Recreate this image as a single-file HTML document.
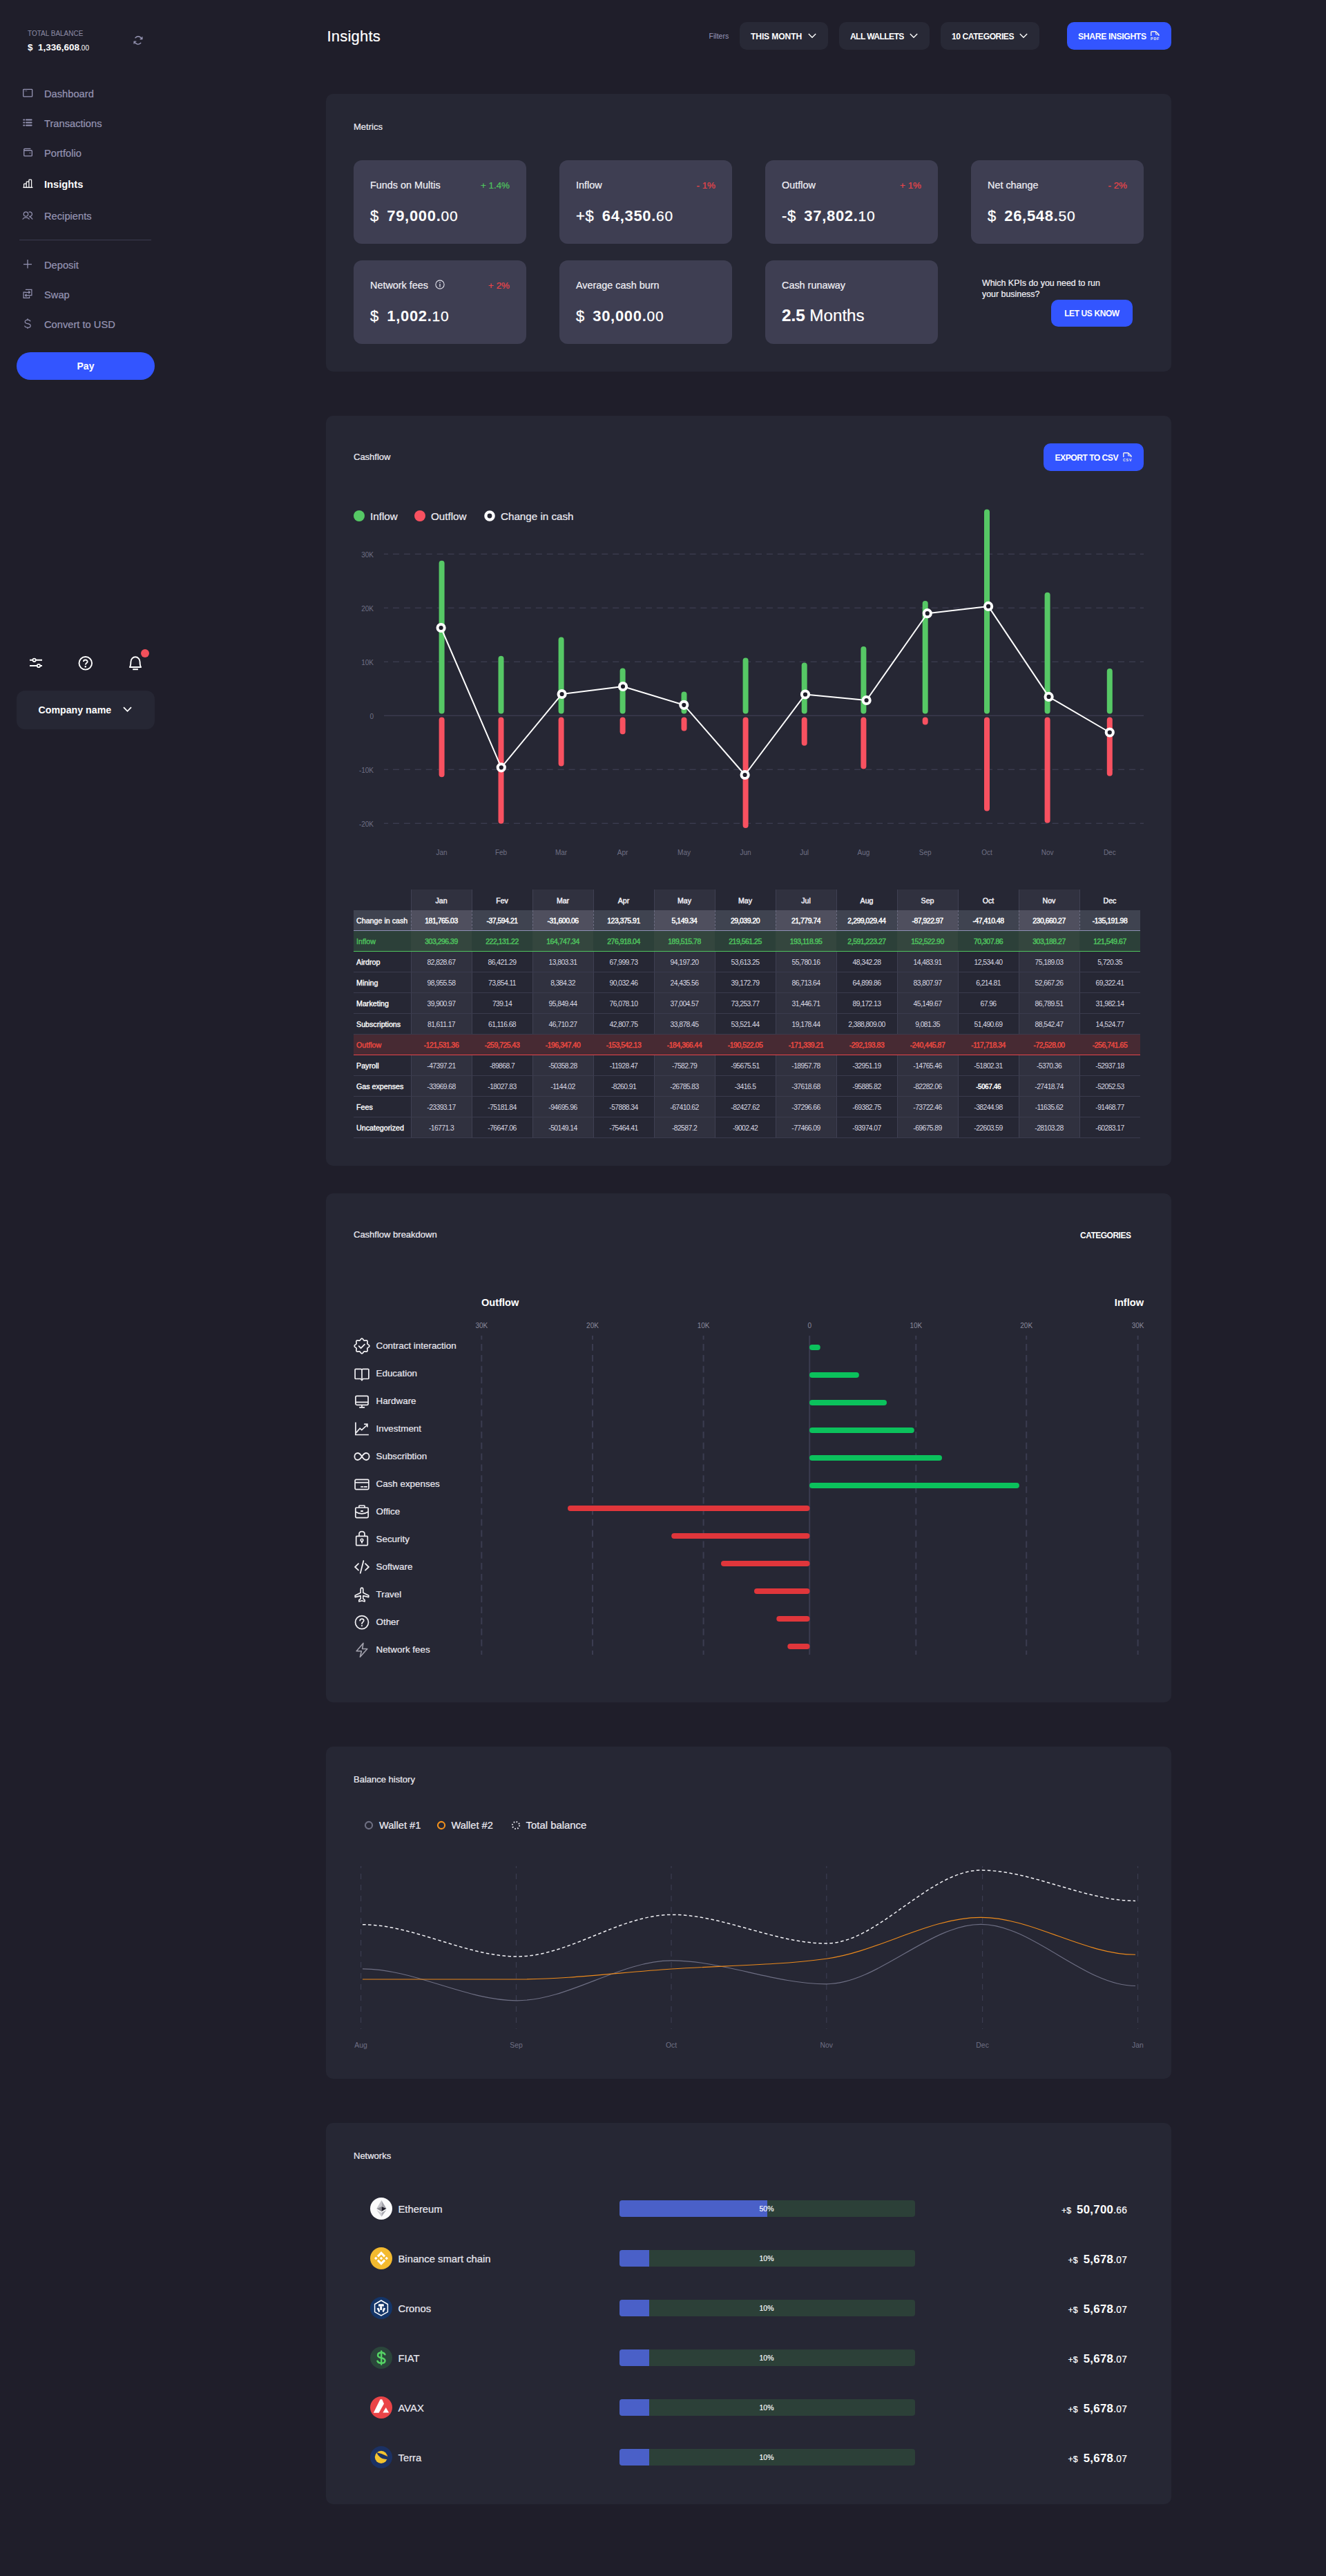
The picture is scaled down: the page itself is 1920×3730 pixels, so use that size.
<!DOCTYPE html><html><head><meta charset="utf-8"><style>
*{margin:0;padding:0;box-sizing:border-box}
html,body{width:1920px;height:3730px;background:#1f1e2a;overflow:hidden}
body{position:relative;font-family:"Liberation Sans",sans-serif;color:#ecebf2}
.t{position:absolute;white-space:nowrap}
.b{position:absolute}
.s{position:absolute;overflow:visible}
</style></head><body>
<div class="t" style="left:40px;top:43.20px;font-size:10px;line-height:12.0px;color:#8d8ca6;font-weight:400;">TOTAL BALANCE</div>
<div class="t" style="left:40px;top:60.90px;font-size:13.5px;line-height:16.2px;color:#ffffff;font-weight:700;">$&nbsp;&nbsp;1,336,608<span style="font-size:10px;font-weight:400">.00</span></div>
<svg class="s" style="left:188px;top:46px;" width="24" height="24" viewBox="0 0 24 24"><path d="M8 8.7 Q12.2 4.4 17.1 9.5 M15.8 16.2 Q11.6 20.4 6.8 15.3" fill="none" stroke="#9a99b8" stroke-width="1.3" stroke-linecap="round"/><path d="M17.9 7.2 V10.5 H14.7 M6.1 17.4 V14.2 H9.3" fill="none" stroke="#9a99b8" stroke-width="1.3" stroke-linejoin="round"/></svg>
<div class="t" style="left:64px;top:128.18px;font-size:14.7px;line-height:17.64px;color:#9594b3;font-weight:400;;-webkit-text-stroke:0.22px #9594b3">Dashboard</div>
<div class="t" style="left:64px;top:171.18px;font-size:14.7px;line-height:17.64px;color:#9594b3;font-weight:400;;-webkit-text-stroke:0.22px #9594b3">Transactions</div>
<div class="t" style="left:64px;top:214.18px;font-size:14.7px;line-height:17.64px;color:#9594b3;font-weight:400;;-webkit-text-stroke:0.22px #9594b3">Portfolio</div>
<div class="t" style="left:64px;top:259.18px;font-size:14.7px;line-height:17.64px;color:#ffffff;font-weight:700;">Insights</div>
<div class="t" style="left:64px;top:305.18px;font-size:14.7px;line-height:17.64px;color:#9594b3;font-weight:400;;-webkit-text-stroke:0.22px #9594b3">Recipients</div>
<div class="t" style="left:64px;top:376.18px;font-size:14.7px;line-height:17.64px;color:#9594b3;font-weight:400;;-webkit-text-stroke:0.22px #9594b3">Deposit</div>
<div class="t" style="left:64px;top:419.18px;font-size:14.7px;line-height:17.64px;color:#9594b3;font-weight:400;;-webkit-text-stroke:0.22px #9594b3">Swap</div>
<div class="t" style="left:64px;top:462.18px;font-size:14.7px;line-height:17.64px;color:#9594b3;font-weight:400;;-webkit-text-stroke:0.22px #9594b3">Convert to USD</div>
<svg class="s" style="left:33px;top:128px;" width="15" height="13" viewBox="0 0 15 13"><rect x="0.75" y="1.3" width="12.9" height="10.5" rx="0.6" fill="none" stroke="#9594b3" stroke-width="1.3"/><circle cx="3.4" cy="3.6" r="0.6" fill="#9594b3"/><circle cx="5.6" cy="3.6" r="0.6" fill="#9594b3"/></svg>
<svg class="s" style="left:33px;top:172px;" width="15" height="12" viewBox="0 0 15 12"><rect x="0.3" y="0.6" width="2.9" height="1.8" rx="0.9" fill="#9594b3"/><rect x="4" y="0.6" width="9.6" height="1.8" rx="0.9" fill="#9594b3"/><rect x="0.3" y="4.6" width="2.9" height="1.8" rx="0.9" fill="#9594b3"/><rect x="4" y="4.6" width="9.6" height="1.8" rx="0.9" fill="#9594b3"/><rect x="0.3" y="8.6" width="2.9" height="1.8" rx="0.9" fill="#9594b3"/><rect x="4" y="8.6" width="9.6" height="1.8" rx="0.9" fill="#9594b3"/></svg>
<svg class="s" style="left:33px;top:213px;" width="15" height="15" viewBox="0 0 15 15"><path d="M11.4 2.4 H2.9 Q1.75 2.4 1.75 3.6 V11.9 Q1.75 12.9 2.8 12.9 H12.3 Q13.35 12.9 13.35 11.9 V5.8 Q13.35 4.75 12.3 4.75 H1.75" fill="none" stroke="#9594b3" stroke-width="1.3"/><circle cx="10.4" cy="8.5" r="0.75" fill="#9594b3"/></svg>
<svg class="s" style="left:33px;top:258px;" width="15" height="15" viewBox="0 0 15 15"><path d="M0.4 13.4 H14.4" stroke="#fff" stroke-width="1.4"/><path d="M1.6 13.4 V8.9 Q1.6 8.1 2.4 8.1 H4.4 Q5.2 8.1 5.2 8.9 V13.4 M5.2 13.4 V5.9 Q5.2 5.1 6 5.1 H8.1 Q8.9 5.1 8.9 5.9 V13.4 M8.9 13.4 V2.9 Q8.9 2.1 9.7 2.1 H11.8 Q12.6 2.1 12.6 2.9 V13.4" fill="none" stroke="#fff" stroke-width="1.25"/></svg>
<svg class="s" style="left:32px;top:304px;" width="18" height="15" viewBox="0 0 18 15"><circle cx="5.5" cy="6" r="3.2" fill="none" stroke="#9594b3" stroke-width="1.25"/><path d="M9.6 3.3 A3.2 3.2 0 1 1 10.3 9.1" fill="none" stroke="#9594b3" stroke-width="1.25"/><path d="M1 13.2 C2.8 10 8.2 10 10.2 13.2 M11 10.2 C12.6 10.4 13.8 11.6 14.8 13.2" fill="none" stroke="#9594b3" stroke-width="1.25" stroke-linecap="round"/></svg>
<div class="b" style="left:28px;top:347px;width:191px;height:1.2px;background:#3b3b50;border-radius:0px;"></div>
<svg class="s" style="left:33px;top:375px;" width="14" height="15" viewBox="0 0 14 15"><path d="M7 1 V13.6 M1 7.5 H13" stroke="#9594b3" stroke-width="1.25"/></svg>
<svg class="s" style="left:33px;top:418px;" width="14" height="15" viewBox="0 0 14 15"><path d="M4.4 1.4 H12.9 V9.7 H10.4" fill="none" stroke="#9594b3" stroke-width="1.2" stroke-linecap="round"/><path d="M3.6 5.1 H1.1 V13.4 H9.6 V11.6" fill="none" stroke="#9594b3" stroke-width="1.2" stroke-linecap="round"/><path d="M3.6 5.3 H10.4 M8.7 3.7 L10.4 5.3 L8.7 6.9 M10.2 9.6 H3.4 M5.1 8 L3.4 9.6 L5.1 11.2" fill="none" stroke="#9594b3" stroke-width="1.2" stroke-linecap="round" stroke-linejoin="round"/></svg>
<svg class="s" style="left:34px;top:460px;" width="12" height="17" viewBox="0 0 12 17"><path d="M6 1.2 V3 M6 14.3 V16.1" stroke="#9594b3" stroke-width="1.2"/><path d="M10 5.3 C9.6 3.9 8 3.1 6 3.1 C3.8 3.1 2.2 4.2 2.2 5.9 C2.2 7.7 4 8.3 6 8.7 C8.2 9.1 10.2 9.7 10.2 11.7 C10.2 13.3 8.4 14.3 6 14.3 C3.6 14.3 2 13.3 1.6 11.7" fill="none" stroke="#9594b3" stroke-width="1.2"/></svg>
<div class="b" style="left:24px;top:510px;width:200px;height:40px;background:#3355ff;border-radius:20px;"></div>
<div class="t" style="left:-76px;width:400px;text-align:center;top:521.60px;font-size:14px;line-height:16.8px;color:#ffffff;font-weight:700;">Pay</div>
<svg class="s" style="left:42px;top:952px;" width="20" height="16" viewBox="0 0 20 16"><path d="M1 3.8 H19 M1 12 H19" stroke="#fff" stroke-width="1.9"/><circle cx="7.6" cy="3.8" r="2.2" fill="#1f1e2a" stroke="#fff" stroke-width="1.8"/><circle cx="14" cy="12" r="2.2" fill="#1f1e2a" stroke="#fff" stroke-width="1.8"/></svg>
<svg class="s" style="left:113px;top:950px;" width="21" height="21" viewBox="0 0 21 21"><circle cx="10.8" cy="10.3" r="9.3" fill="none" stroke="#fff" stroke-width="1.9"/><path d="M7.9 8 C7.9 4.7 13.7 4.7 13.7 8 C13.7 10 10.8 10.3 10.8 12.5" fill="none" stroke="#fff" stroke-width="1.9"/><circle cx="10.8" cy="15.3" r="1.2" fill="#fff"/></svg>
<svg class="s" style="left:186px;top:950px;" width="20" height="21" viewBox="0 0 20 21"><path d="M1.9 16 C3.4 14 3.4 12 3.4 8.5 C3.4 4.4 6.4 1.2 10 1.2 C13.6 1.2 16.6 4.4 16.6 8.5 C16.6 12 16.6 14 18.1 16 Z" fill="none" stroke="#fff" stroke-width="1.9" stroke-linejoin="round"/><path d="M6.2 19.2 H13.9" stroke="#fff" stroke-width="2"/></svg>
<div class="b" style="left:204px;top:940px;width:12px;height:12px;background:#f2505b;border-radius:6px;"></div>
<div class="b" style="left:24px;top:1000px;width:200px;height:56px;background:#262734;border-radius:12px;"></div>
<div class="t" style="left:55.5px;top:1019.98px;font-size:14.2px;line-height:17.04px;color:#ffffff;font-weight:700;">Company name</div>
<svg class="s" style="left:178px;top:1023px;" width="13" height="9" viewBox="0 0 13 9"><path d="M1 1.2 L6.5 6.8 L12 1.2" fill="none" stroke="#fff" stroke-width="1.8"/></svg>
<div class="t" style="left:473.5px;top:39.70px;font-size:22px;line-height:26.4px;color:#ffffff;font-weight:400;letter-spacing:0.2px;-webkit-text-stroke:0.22px #ffffff">Insights</div>
<div class="t" style="left:1026.5px;top:46.14px;font-size:10.6px;line-height:12.72px;color:#9898bc;font-weight:400;">Filters</div>
<div class="b" style="left:1071px;top:32px;width:128px;height:40px;background:#282936;border-radius:10px;"></div>
<div class="t" style="left:1087px;top:45.54px;font-size:12.1px;line-height:14.52px;color:#ffffff;font-weight:700;letter-spacing:-0.12px">THIS MONTH</div>
<svg class="s" style="left:1170px;top:48px;" width="12" height="8" viewBox="0 0 12 8"><path d="M0.8 1 L6 6.2 L11.2 1" fill="none" stroke="#fff" stroke-width="1.4"/></svg>
<div class="b" style="left:1215px;top:32px;width:131px;height:40px;background:#282936;border-radius:10px;"></div>
<div class="t" style="left:1231px;top:45.54px;font-size:12.1px;line-height:14.52px;color:#ffffff;font-weight:700;letter-spacing:-0.62px">ALL WALLETS</div>
<svg class="s" style="left:1317px;top:48px;" width="12" height="8" viewBox="0 0 12 8"><path d="M0.8 1 L6 6.2 L11.2 1" fill="none" stroke="#fff" stroke-width="1.4"/></svg>
<div class="b" style="left:1362px;top:32px;width:143px;height:40px;background:#282936;border-radius:10px;"></div>
<div class="t" style="left:1378px;top:45.54px;font-size:12.1px;line-height:14.52px;color:#ffffff;font-weight:700;letter-spacing:-0.45px">10 CATEGORIES</div>
<svg class="s" style="left:1476px;top:48px;" width="12" height="8" viewBox="0 0 12 8"><path d="M0.8 1 L6 6.2 L11.2 1" fill="none" stroke="#fff" stroke-width="1.4"/></svg>
<div class="b" style="left:1545px;top:32px;width:151px;height:40px;background:#3355ff;border-radius:10px;"></div>
<div class="t" style="left:1561px;top:45.88px;font-size:12.2px;line-height:14.64px;color:#ffffff;font-weight:700;letter-spacing:-0.35px">SHARE INSIGHTS</div>
<svg class="s" style="left:1666px;top:45px;" width="13" height="14" viewBox="0 0 13 14"><path d="M0.8 7 V1.7 Q0.8 0.8 1.7 0.8 H7.5 L11.9 5.1 V7" fill="none" stroke="#f2f0ea" stroke-width="1.4" stroke-linejoin="round"/><path d="M7.6 1 V4.9 H11.6" fill="none" stroke="#f2f0ea" stroke-width="1"/><text x="6.6" y="13.2" font-size="5.2" font-weight="700" fill="#f2f0ea" text-anchor="middle" letter-spacing="0.9" font-family="Liberation Sans">PDF</text></svg>
<div class="b" style="left:472px;top:136px;width:1224px;height:402px;background:#262734;border-radius:10px;"></div>
<div class="t" style="left:512px;top:176.20px;font-size:13px;line-height:15.6px;color:#ecebf2;font-weight:400;;-webkit-text-stroke:0.22px #ecebf2">Metrics</div>
<div class="b" style="left:512px;top:232px;width:250px;height:121px;background:#3e3e52;border-radius:12px;"></div>
<div class="t" style="left:536px;top:260.36px;font-size:14.4px;line-height:17.28px;color:#f0eff5;font-weight:400;;-webkit-text-stroke:0.22px #f0eff5">Funds on Multis</div>
<div class="t" style="right:1182px;top:260.96px;font-size:13.4px;line-height:16.08px;color:#4fc45e;font-weight:400;text-align:right;;-webkit-text-stroke:0.22px #4fc45e">+ 1.4%</div>
<div class="t" style="left:536px;top:300.30px;font-size:22px;line-height:26.4px;color:#ffffff;font-weight:700;letter-spacing:0.7px"><span style="font-weight:400;-webkit-text-stroke:0.3px #fff">$</span><span style="display:inline-block;width:11.3px"></span>79,000.<span style="font-weight:400;font-size:21px;-webkit-text-stroke:0.25px #fff">00</span></div>
<div class="b" style="left:810px;top:232px;width:250px;height:121px;background:#3e3e52;border-radius:12px;"></div>
<div class="t" style="left:834px;top:260.36px;font-size:14.4px;line-height:17.28px;color:#f0eff5;font-weight:400;;-webkit-text-stroke:0.22px #f0eff5">Inflow</div>
<div class="t" style="right:884px;top:260.96px;font-size:13.4px;line-height:16.08px;color:#e8454a;font-weight:400;text-align:right;;-webkit-text-stroke:0.22px #e8454a">- 1%</div>
<div class="t" style="left:834px;top:300.30px;font-size:22px;line-height:26.4px;color:#ffffff;font-weight:700;letter-spacing:0.7px"><span style="font-weight:400;-webkit-text-stroke:0.3px #fff">+$</span><span style="display:inline-block;width:11.3px"></span>64,350.<span style="font-weight:400;font-size:21px;-webkit-text-stroke:0.25px #fff">60</span></div>
<div class="b" style="left:1108px;top:232px;width:250px;height:121px;background:#3e3e52;border-radius:12px;"></div>
<div class="t" style="left:1132px;top:260.36px;font-size:14.4px;line-height:17.28px;color:#f0eff5;font-weight:400;;-webkit-text-stroke:0.22px #f0eff5">Outflow</div>
<div class="t" style="right:586px;top:260.96px;font-size:13.4px;line-height:16.08px;color:#e8454a;font-weight:400;text-align:right;;-webkit-text-stroke:0.22px #e8454a">+ 1%</div>
<div class="t" style="left:1132px;top:300.30px;font-size:22px;line-height:26.4px;color:#ffffff;font-weight:700;letter-spacing:0.7px"><span style="font-weight:400;-webkit-text-stroke:0.3px #fff">-$</span><span style="display:inline-block;width:11.3px"></span>37,802.<span style="font-weight:400;font-size:21px;-webkit-text-stroke:0.25px #fff">10</span></div>
<div class="b" style="left:1406px;top:232px;width:250px;height:121px;background:#3e3e52;border-radius:12px;"></div>
<div class="t" style="left:1430px;top:260.36px;font-size:14.4px;line-height:17.28px;color:#f0eff5;font-weight:400;;-webkit-text-stroke:0.22px #f0eff5">Net change</div>
<div class="t" style="right:288px;top:260.96px;font-size:13.4px;line-height:16.08px;color:#e8454a;font-weight:400;text-align:right;;-webkit-text-stroke:0.22px #e8454a">- 2%</div>
<div class="t" style="left:1430px;top:300.30px;font-size:22px;line-height:26.4px;color:#ffffff;font-weight:700;letter-spacing:0.7px"><span style="font-weight:400;-webkit-text-stroke:0.3px #fff">$</span><span style="display:inline-block;width:11.3px"></span>26,548.<span style="font-weight:400;font-size:21px;-webkit-text-stroke:0.25px #fff">50</span></div>
<div class="b" style="left:512px;top:377px;width:250px;height:120.5px;background:#3e3e52;border-radius:12px;"></div>
<div class="t" style="left:536px;top:405.36px;font-size:14.4px;line-height:17.28px;color:#f0eff5;font-weight:400;;-webkit-text-stroke:0.22px #f0eff5">Network fees</div>
<div class="t" style="right:1182px;top:405.96px;font-size:13.4px;line-height:16.08px;color:#e8454a;font-weight:400;text-align:right;;-webkit-text-stroke:0.22px #e8454a">+ 2%</div>
<div class="t" style="left:536px;top:445.30px;font-size:22px;line-height:26.4px;color:#ffffff;font-weight:700;letter-spacing:0.7px"><span style="font-weight:400;-webkit-text-stroke:0.3px #fff">$</span><span style="display:inline-block;width:11.3px"></span>1,002.<span style="font-weight:400;font-size:21px;-webkit-text-stroke:0.25px #fff">10</span></div>
<div class="b" style="left:810px;top:377px;width:250px;height:120.5px;background:#3e3e52;border-radius:12px;"></div>
<div class="t" style="left:834px;top:405.36px;font-size:14.4px;line-height:17.28px;color:#f0eff5;font-weight:400;;-webkit-text-stroke:0.22px #f0eff5">Average cash burn</div>
<div class="t" style="left:834px;top:445.30px;font-size:22px;line-height:26.4px;color:#ffffff;font-weight:700;letter-spacing:0.7px"><span style="font-weight:400;-webkit-text-stroke:0.3px #fff">$</span><span style="display:inline-block;width:11.3px"></span>30,000.<span style="font-weight:400;font-size:21px;-webkit-text-stroke:0.25px #fff">00</span></div>
<div class="b" style="left:1108px;top:377px;width:250px;height:120.5px;background:#3e3e52;border-radius:12px;"></div>
<div class="t" style="left:1132px;top:405.36px;font-size:14.4px;line-height:17.28px;color:#f0eff5;font-weight:400;;-webkit-text-stroke:0.22px #f0eff5">Cash runaway</div>
<div class="t" style="left:1132px;top:441.98px;font-size:24.2px;line-height:29.04px;color:#ffffff;font-weight:400;;-webkit-text-stroke:0.22px #ffffff"><b>2.5</b> Months</div>
<svg class="s" style="left:630px;top:405px;" width="14" height="14" viewBox="0 0 14 14"><circle cx="7" cy="7" r="6.1" fill="none" stroke="#e6e6ee" stroke-width="1.1"/><path d="M7 6 V10.4" stroke="#e6e6ee" stroke-width="1.3"/><circle cx="7" cy="4.1" r="0.8" fill="#e6e6ee"/></svg>
<div class="t" style="left:1422px;top:402.56px;font-size:12.4px;line-height:14.88px;color:#f0eff5;font-weight:400;;-webkit-text-stroke:0.22px #f0eff5">Which KPIs do you need to run</div>
<div class="t" style="left:1422px;top:418.86px;font-size:12.4px;line-height:14.88px;color:#f0eff5;font-weight:400;;-webkit-text-stroke:0.22px #f0eff5">your business?</div>
<div class="b" style="left:1522px;top:434px;width:118px;height:39px;background:#3355ff;border-radius:10px;"></div>
<div class="t" style="left:1381px;width:400px;text-align:center;top:446.80px;font-size:12px;line-height:14.4px;color:#ffffff;font-weight:700;letter-spacing:-0.4px">LET US KNOW</div>
<div class="b" style="left:472px;top:602px;width:1224px;height:1086px;background:#262734;border-radius:10px;"></div>
<div class="t" style="left:512px;top:654.20px;font-size:13px;line-height:15.6px;color:#ecebf2;font-weight:400;;-webkit-text-stroke:0.22px #ecebf2">Cashflow</div>
<div class="b" style="left:1511px;top:642px;width:145px;height:40px;background:#3355ff;border-radius:10px;"></div>
<div class="t" style="left:1527.5px;top:655.68px;font-size:12.2px;line-height:14.64px;color:#ffffff;font-weight:700;letter-spacing:-0.55px">EXPORT TO CSV</div>
<svg class="s" style="left:1626px;top:655px;" width="13" height="14" viewBox="0 0 13 14"><path d="M0.8 7 V1.7 Q0.8 0.8 1.7 0.8 H7.5 L11.9 5.1 V7" fill="none" stroke="#f2f0ea" stroke-width="1.4" stroke-linejoin="round"/><path d="M7.6 1 V4.9 H11.6" fill="none" stroke="#f2f0ea" stroke-width="1"/><text x="6.6" y="13.2" font-size="5.2" font-weight="700" fill="#f2f0ea" text-anchor="middle" letter-spacing="0.9" font-family="Liberation Sans">CSV</text></svg>
<div class="b" style="left:512px;top:739px;width:16px;height:16px;background:#56c865;border-radius:8px;"></div>
<div class="t" style="left:536px;top:738.88px;font-size:15.2px;line-height:18.24px;color:#ecebf2;font-weight:400;;-webkit-text-stroke:0.22px #ecebf2">Inflow</div>
<div class="b" style="left:600px;top:739px;width:16px;height:16px;background:#f85160;border-radius:8px;"></div>
<div class="t" style="left:624px;top:738.88px;font-size:15.2px;line-height:18.24px;color:#ecebf2;font-weight:400;;-webkit-text-stroke:0.22px #ecebf2">Outflow</div>
<svg class="s" style="left:701px;top:739px;" width="16" height="16" viewBox="0 0 16 16"><circle cx="8" cy="8" r="5.6" fill="#262734" stroke="#fff" stroke-width="4.4"/></svg>
<div class="t" style="left:725px;top:738.88px;font-size:15.2px;line-height:18.24px;color:#ecebf2;font-weight:400;;-webkit-text-stroke:0.22px #ecebf2">Change in cash</div>
<svg class="s" style="left:0;top:0" width="1920" height="1300"><line x1="556" y1="802.2" x2="1656" y2="802.2" stroke="#44455a" stroke-width="1" stroke-dasharray="9 6.91" stroke-dashoffset="2.91"/><text x="541" y="807.4" font-size="10" fill="#6f7084" text-anchor="end" font-family="Liberation Sans">30K</text><line x1="556" y1="880.2" x2="1656" y2="880.2" stroke="#44455a" stroke-width="1" stroke-dasharray="9 6.91" stroke-dashoffset="2.91"/><text x="541" y="885.4" font-size="10" fill="#6f7084" text-anchor="end" font-family="Liberation Sans">20K</text><line x1="556" y1="958.2" x2="1656" y2="958.2" stroke="#44455a" stroke-width="1" stroke-dasharray="9 6.91" stroke-dashoffset="2.91"/><text x="541" y="963.4" font-size="10" fill="#6f7084" text-anchor="end" font-family="Liberation Sans">10K</text><line x1="556" y1="1036.2" x2="1656" y2="1036.2" stroke="#44455a" stroke-width="1"/><text x="541" y="1041.4" font-size="10" fill="#6f7084" text-anchor="end" font-family="Liberation Sans">0</text><line x1="556" y1="1114.2" x2="1656" y2="1114.2" stroke="#44455a" stroke-width="1" stroke-dasharray="9 6.91" stroke-dashoffset="2.91"/><text x="541" y="1119.4" font-size="10" fill="#6f7084" text-anchor="end" font-family="Liberation Sans">-10K</text><line x1="556" y1="1192.2" x2="1656" y2="1192.2" stroke="#44455a" stroke-width="1" stroke-dasharray="9 6.91" stroke-dashoffset="2.91"/><text x="541" y="1197.4" font-size="10" fill="#6f7084" text-anchor="end" font-family="Liberation Sans">-20K</text><line x1="639.6" y1="815.8" x2="639.6" y2="1029.4" stroke="#56c865" stroke-width="8" stroke-linecap="round"/><line x1="639.6" y1="1042.6" x2="639.6" y2="1121.3" stroke="#f85160" stroke-width="8" stroke-linecap="round"/><text x="639.6" y="1238" font-size="10" fill="#6f7084" text-anchor="middle" font-family="Liberation Sans">Jan</text><line x1="725.5" y1="953.8" x2="725.5" y2="1029.4" stroke="#56c865" stroke-width="8" stroke-linecap="round"/><line x1="725.5" y1="1042.6" x2="725.5" y2="1188.8" stroke="#f85160" stroke-width="8" stroke-linecap="round"/><text x="725.5" y="1238" font-size="10" fill="#6f7084" text-anchor="middle" font-family="Liberation Sans">Feb</text><line x1="812.6" y1="926.6" x2="812.6" y2="1029.4" stroke="#56c865" stroke-width="8" stroke-linecap="round"/><line x1="812.6" y1="1042.6" x2="812.6" y2="1105.5" stroke="#f85160" stroke-width="8" stroke-linecap="round"/><text x="812.6" y="1238" font-size="10" fill="#6f7084" text-anchor="middle" font-family="Liberation Sans">Mar</text><line x1="901.6" y1="971.4" x2="901.6" y2="1029.4" stroke="#56c865" stroke-width="8" stroke-linecap="round"/><line x1="901.6" y1="1042.6" x2="901.6" y2="1059.3" stroke="#f85160" stroke-width="8" stroke-linecap="round"/><text x="901.6" y="1238" font-size="10" fill="#6f7084" text-anchor="middle" font-family="Liberation Sans">Apr</text><line x1="990.5" y1="1005.4" x2="990.5" y2="1029.4" stroke="#56c865" stroke-width="8" stroke-linecap="round"/><line x1="990.5" y1="1042.6" x2="990.5" y2="1054.4" stroke="#f85160" stroke-width="8" stroke-linecap="round"/><text x="990.5" y="1238" font-size="10" fill="#6f7084" text-anchor="middle" font-family="Liberation Sans">May</text><line x1="1079.6" y1="956.5" x2="1079.6" y2="1029.4" stroke="#56c865" stroke-width="8" stroke-linecap="round"/><line x1="1079.6" y1="1042.6" x2="1079.6" y2="1195.0" stroke="#f85160" stroke-width="8" stroke-linecap="round"/><text x="1079.6" y="1238" font-size="10" fill="#6f7084" text-anchor="middle" font-family="Liberation Sans">Jun</text><line x1="1164.7" y1="963.6" x2="1164.7" y2="1029.4" stroke="#56c865" stroke-width="8" stroke-linecap="round"/><line x1="1164.7" y1="1042.6" x2="1164.7" y2="1075.8" stroke="#f85160" stroke-width="8" stroke-linecap="round"/><text x="1164.7" y="1238" font-size="10" fill="#6f7084" text-anchor="middle" font-family="Liberation Sans">Jul</text><line x1="1250.4" y1="940.0" x2="1250.4" y2="1029.4" stroke="#56c865" stroke-width="8" stroke-linecap="round"/><line x1="1250.4" y1="1042.6" x2="1250.4" y2="1109.6" stroke="#f85160" stroke-width="8" stroke-linecap="round"/><text x="1250.4" y="1238" font-size="10" fill="#6f7084" text-anchor="middle" font-family="Liberation Sans">Aug</text><line x1="1339.7" y1="873.9" x2="1339.7" y2="1029.4" stroke="#56c865" stroke-width="8" stroke-linecap="round"/><line x1="1339.7" y1="1042.6" x2="1339.7" y2="1045.5" stroke="#f85160" stroke-width="8" stroke-linecap="round"/><text x="1339.7" y="1238" font-size="10" fill="#6f7084" text-anchor="middle" font-family="Liberation Sans">Sep</text><line x1="1429" y1="741.6" x2="1429" y2="1029.4" stroke="#56c865" stroke-width="8" stroke-linecap="round"/><line x1="1429" y1="1042.6" x2="1429" y2="1170.4" stroke="#f85160" stroke-width="8" stroke-linecap="round"/><text x="1429" y="1238" font-size="10" fill="#6f7084" text-anchor="middle" font-family="Liberation Sans">Oct</text><line x1="1516.6" y1="861.8" x2="1516.6" y2="1029.4" stroke="#56c865" stroke-width="8" stroke-linecap="round"/><line x1="1516.6" y1="1042.6" x2="1516.6" y2="1187.8" stroke="#f85160" stroke-width="8" stroke-linecap="round"/><text x="1516.6" y="1238" font-size="10" fill="#6f7084" text-anchor="middle" font-family="Liberation Sans">Nov</text><line x1="1606.8" y1="971.9" x2="1606.8" y2="1029.4" stroke="#56c865" stroke-width="8" stroke-linecap="round"/><line x1="1606.8" y1="1042.6" x2="1606.8" y2="1119.7" stroke="#f85160" stroke-width="8" stroke-linecap="round"/><text x="1606.8" y="1238" font-size="10" fill="#6f7084" text-anchor="middle" font-family="Liberation Sans">Dec</text><polyline points="638.6,909 725.8,1111.3 813.6,1005 902,994 990.3,1020.8 1078.6,1122 1166,1005.5 1254.6,1014 1342.8,888.2 1431.1,877.9 1518.6,1008.9 1606.8,1060.5" fill="none" stroke="#fff" stroke-width="2" stroke-linejoin="round"/><circle cx="638.6" cy="909" r="5.1" fill="#1f1e2a" stroke="#fff" stroke-width="4"/><circle cx="725.8" cy="1111.3" r="5.1" fill="#1f1e2a" stroke="#fff" stroke-width="4"/><circle cx="813.6" cy="1005" r="5.1" fill="#1f1e2a" stroke="#fff" stroke-width="4"/><circle cx="902" cy="994" r="5.1" fill="#1f1e2a" stroke="#fff" stroke-width="4"/><circle cx="990.3" cy="1020.8" r="5.1" fill="#1f1e2a" stroke="#fff" stroke-width="4"/><circle cx="1078.6" cy="1122" r="5.1" fill="#1f1e2a" stroke="#fff" stroke-width="4"/><circle cx="1166" cy="1005.5" r="5.1" fill="#1f1e2a" stroke="#fff" stroke-width="4"/><circle cx="1254.6" cy="1014" r="5.1" fill="#1f1e2a" stroke="#fff" stroke-width="4"/><circle cx="1342.8" cy="888.2" r="5.1" fill="#1f1e2a" stroke="#fff" stroke-width="4"/><circle cx="1431.1" cy="877.9" r="5.1" fill="#1f1e2a" stroke="#fff" stroke-width="4"/><circle cx="1518.6" cy="1008.9" r="5.1" fill="#1f1e2a" stroke="#fff" stroke-width="4"/><circle cx="1606.8" cy="1060.5" r="5.1" fill="#1f1e2a" stroke="#fff" stroke-width="4"/></svg>
<div class="b" style="left:595px;top:1288px;width:88px;height:360px;background:#30313f;border-radius:0px;"></div>
<div class="b" style="left:771px;top:1288px;width:88px;height:360px;background:#30313f;border-radius:0px;"></div>
<div class="b" style="left:947px;top:1288px;width:88px;height:360px;background:#30313f;border-radius:0px;"></div>
<div class="b" style="left:1123px;top:1288px;width:88px;height:360px;background:#30313f;border-radius:0px;"></div>
<div class="b" style="left:1299px;top:1288px;width:88px;height:360px;background:#30313f;border-radius:0px;"></div>
<div class="b" style="left:1475px;top:1288px;width:88px;height:360px;background:#30313f;border-radius:0px;"></div>
<div class="t" style="left:439.0px;width:400px;text-align:center;top:1297.64px;font-size:10.6px;line-height:12.72px;color:#f0eff5;font-weight:400;-webkit-text-stroke:0.45px #f0eff5">Jan</div>
<div class="t" style="left:527.0px;width:400px;text-align:center;top:1297.64px;font-size:10.6px;line-height:12.72px;color:#f0eff5;font-weight:400;-webkit-text-stroke:0.45px #f0eff5">Fev</div>
<div class="t" style="left:615.0px;width:400px;text-align:center;top:1297.64px;font-size:10.6px;line-height:12.72px;color:#f0eff5;font-weight:400;-webkit-text-stroke:0.45px #f0eff5">Mar</div>
<div class="t" style="left:703.0px;width:400px;text-align:center;top:1297.64px;font-size:10.6px;line-height:12.72px;color:#f0eff5;font-weight:400;-webkit-text-stroke:0.45px #f0eff5">Apr</div>
<div class="t" style="left:791.0px;width:400px;text-align:center;top:1297.64px;font-size:10.6px;line-height:12.72px;color:#f0eff5;font-weight:400;-webkit-text-stroke:0.45px #f0eff5">May</div>
<div class="t" style="left:879.0px;width:400px;text-align:center;top:1297.64px;font-size:10.6px;line-height:12.72px;color:#f0eff5;font-weight:400;-webkit-text-stroke:0.45px #f0eff5">May</div>
<div class="t" style="left:967.0px;width:400px;text-align:center;top:1297.64px;font-size:10.6px;line-height:12.72px;color:#f0eff5;font-weight:400;-webkit-text-stroke:0.45px #f0eff5">Jul</div>
<div class="t" style="left:1055.0px;width:400px;text-align:center;top:1297.64px;font-size:10.6px;line-height:12.72px;color:#f0eff5;font-weight:400;-webkit-text-stroke:0.45px #f0eff5">Aug</div>
<div class="t" style="left:1143.0px;width:400px;text-align:center;top:1297.64px;font-size:10.6px;line-height:12.72px;color:#f0eff5;font-weight:400;-webkit-text-stroke:0.45px #f0eff5">Sep</div>
<div class="t" style="left:1231.0px;width:400px;text-align:center;top:1297.64px;font-size:10.6px;line-height:12.72px;color:#f0eff5;font-weight:400;-webkit-text-stroke:0.45px #f0eff5">Oct</div>
<div class="t" style="left:1319.0px;width:400px;text-align:center;top:1297.64px;font-size:10.6px;line-height:12.72px;color:#f0eff5;font-weight:400;-webkit-text-stroke:0.45px #f0eff5">Nov</div>
<div class="t" style="left:1407.0px;width:400px;text-align:center;top:1297.64px;font-size:10.6px;line-height:12.72px;color:#f0eff5;font-weight:400;-webkit-text-stroke:0.45px #f0eff5">Dec</div>
<div class="b" style="left:594.5px;top:1288px;width:1px;height:360px;background:#3f4052;border-radius:0px;"></div>
<div class="b" style="left:682.5px;top:1288px;width:1px;height:360px;background:#3f4052;border-radius:0px;"></div>
<div class="b" style="left:770.5px;top:1288px;width:1px;height:360px;background:#3f4052;border-radius:0px;"></div>
<div class="b" style="left:858.5px;top:1288px;width:1px;height:360px;background:#3f4052;border-radius:0px;"></div>
<div class="b" style="left:946.5px;top:1288px;width:1px;height:360px;background:#3f4052;border-radius:0px;"></div>
<div class="b" style="left:1034.5px;top:1288px;width:1px;height:360px;background:#3f4052;border-radius:0px;"></div>
<div class="b" style="left:1122.5px;top:1288px;width:1px;height:360px;background:#3f4052;border-radius:0px;"></div>
<div class="b" style="left:1210.5px;top:1288px;width:1px;height:360px;background:#3f4052;border-radius:0px;"></div>
<div class="b" style="left:1298.5px;top:1288px;width:1px;height:360px;background:#3f4052;border-radius:0px;"></div>
<div class="b" style="left:1386.5px;top:1288px;width:1px;height:360px;background:#3f4052;border-radius:0px;"></div>
<div class="b" style="left:1474.5px;top:1288px;width:1px;height:360px;background:#3f4052;border-radius:0px;"></div>
<div class="b" style="left:1562.5px;top:1288px;width:1px;height:360px;background:#3f4052;border-radius:0px;"></div>
<div class="b" style="left:512px;top:1318px;width:1139px;height:30px;background:#3f4350;border-radius:0px;"></div>
<div class="b" style="left:595px;top:1318px;width:88px;height:30px;background:#4f4f5e;border-radius:0px;"></div>
<div class="b" style="left:771px;top:1318px;width:88px;height:30px;background:#4f4f5e;border-radius:0px;"></div>
<div class="b" style="left:947px;top:1318px;width:88px;height:30px;background:#4f4f5e;border-radius:0px;"></div>
<div class="b" style="left:1123px;top:1318px;width:88px;height:30px;background:#4f4f5e;border-radius:0px;"></div>
<div class="b" style="left:1299px;top:1318px;width:88px;height:30px;background:#4f4f5e;border-radius:0px;"></div>
<div class="b" style="left:1475px;top:1318px;width:88px;height:30px;background:#4f4f5e;border-radius:0px;"></div>
<div class="b" style="left:594.5px;top:1318px;width:1px;height:30px;background:repeating-linear-gradient(#6a6b80 0 3px,transparent 3px 5px);border-radius:0px;"></div>
<div class="b" style="left:682.5px;top:1318px;width:1px;height:30px;background:repeating-linear-gradient(#6a6b80 0 3px,transparent 3px 5px);border-radius:0px;"></div>
<div class="b" style="left:770.5px;top:1318px;width:1px;height:30px;background:repeating-linear-gradient(#6a6b80 0 3px,transparent 3px 5px);border-radius:0px;"></div>
<div class="b" style="left:858.5px;top:1318px;width:1px;height:30px;background:repeating-linear-gradient(#6a6b80 0 3px,transparent 3px 5px);border-radius:0px;"></div>
<div class="b" style="left:946.5px;top:1318px;width:1px;height:30px;background:repeating-linear-gradient(#6a6b80 0 3px,transparent 3px 5px);border-radius:0px;"></div>
<div class="b" style="left:1034.5px;top:1318px;width:1px;height:30px;background:repeating-linear-gradient(#6a6b80 0 3px,transparent 3px 5px);border-radius:0px;"></div>
<div class="b" style="left:1122.5px;top:1318px;width:1px;height:30px;background:repeating-linear-gradient(#6a6b80 0 3px,transparent 3px 5px);border-radius:0px;"></div>
<div class="b" style="left:1210.5px;top:1318px;width:1px;height:30px;background:repeating-linear-gradient(#6a6b80 0 3px,transparent 3px 5px);border-radius:0px;"></div>
<div class="b" style="left:1298.5px;top:1318px;width:1px;height:30px;background:repeating-linear-gradient(#6a6b80 0 3px,transparent 3px 5px);border-radius:0px;"></div>
<div class="b" style="left:1386.5px;top:1318px;width:1px;height:30px;background:repeating-linear-gradient(#6a6b80 0 3px,transparent 3px 5px);border-radius:0px;"></div>
<div class="b" style="left:1474.5px;top:1318px;width:1px;height:30px;background:repeating-linear-gradient(#6a6b80 0 3px,transparent 3px 5px);border-radius:0px;"></div>
<div class="b" style="left:1562.5px;top:1318px;width:1px;height:30px;background:repeating-linear-gradient(#6a6b80 0 3px,transparent 3px 5px);border-radius:0px;"></div>
<div class="t" style="left:516px;top:1327.18px;font-size:10.7px;line-height:12.84px;color:#ffffff;font-weight:400;-webkit-text-stroke:0.35px #ffffff">Change in cash</div>
<div class="t" style="left:439.0px;width:400px;text-align:center;top:1328.46px;font-size:10.4px;line-height:12.48px;color:#ffffff;font-weight:400;letter-spacing:-0.45px;-webkit-text-stroke:0.45px #ffffff">181,765.03</div>
<div class="t" style="left:527.0px;width:400px;text-align:center;top:1328.46px;font-size:10.4px;line-height:12.48px;color:#ffffff;font-weight:400;letter-spacing:-0.45px;-webkit-text-stroke:0.45px #ffffff">-37,594.21</div>
<div class="t" style="left:615.0px;width:400px;text-align:center;top:1328.46px;font-size:10.4px;line-height:12.48px;color:#ffffff;font-weight:400;letter-spacing:-0.45px;-webkit-text-stroke:0.45px #ffffff">-31,600.06</div>
<div class="t" style="left:703.0px;width:400px;text-align:center;top:1328.46px;font-size:10.4px;line-height:12.48px;color:#ffffff;font-weight:400;letter-spacing:-0.45px;-webkit-text-stroke:0.45px #ffffff">123,375.91</div>
<div class="t" style="left:791.0px;width:400px;text-align:center;top:1328.46px;font-size:10.4px;line-height:12.48px;color:#ffffff;font-weight:400;letter-spacing:-0.45px;-webkit-text-stroke:0.45px #ffffff">5,149.34</div>
<div class="t" style="left:879.0px;width:400px;text-align:center;top:1328.46px;font-size:10.4px;line-height:12.48px;color:#ffffff;font-weight:400;letter-spacing:-0.45px;-webkit-text-stroke:0.45px #ffffff">29,039.20</div>
<div class="t" style="left:967.0px;width:400px;text-align:center;top:1328.46px;font-size:10.4px;line-height:12.48px;color:#ffffff;font-weight:400;letter-spacing:-0.45px;-webkit-text-stroke:0.45px #ffffff">21,779.74</div>
<div class="t" style="left:1055.0px;width:400px;text-align:center;top:1328.46px;font-size:10.4px;line-height:12.48px;color:#ffffff;font-weight:400;letter-spacing:-0.45px;-webkit-text-stroke:0.45px #ffffff">2,299,029.44</div>
<div class="t" style="left:1143.0px;width:400px;text-align:center;top:1328.46px;font-size:10.4px;line-height:12.48px;color:#ffffff;font-weight:400;letter-spacing:-0.45px;-webkit-text-stroke:0.45px #ffffff">-87,922.97</div>
<div class="t" style="left:1231.0px;width:400px;text-align:center;top:1328.46px;font-size:10.4px;line-height:12.48px;color:#ffffff;font-weight:400;letter-spacing:-0.45px;-webkit-text-stroke:0.45px #ffffff">-47,410.48</div>
<div class="t" style="left:1319.0px;width:400px;text-align:center;top:1328.46px;font-size:10.4px;line-height:12.48px;color:#ffffff;font-weight:400;letter-spacing:-0.45px;-webkit-text-stroke:0.45px #ffffff">230,660.27</div>
<div class="t" style="left:1407.0px;width:400px;text-align:center;top:1328.46px;font-size:10.4px;line-height:12.48px;color:#ffffff;font-weight:400;letter-spacing:-0.45px;-webkit-text-stroke:0.45px #ffffff">-135,191.98</div>
<div class="b" style="left:512px;top:1348px;width:1139px;height:30px;background:#2c4039;border-radius:0px;"></div>
<div class="b" style="left:595px;top:1348px;width:88px;height:30px;background:#34463e;border-radius:0px;"></div>
<div class="b" style="left:771px;top:1348px;width:88px;height:30px;background:#34463e;border-radius:0px;"></div>
<div class="b" style="left:947px;top:1348px;width:88px;height:30px;background:#34463e;border-radius:0px;"></div>
<div class="b" style="left:1123px;top:1348px;width:88px;height:30px;background:#34463e;border-radius:0px;"></div>
<div class="b" style="left:1299px;top:1348px;width:88px;height:30px;background:#34463e;border-radius:0px;"></div>
<div class="b" style="left:1475px;top:1348px;width:88px;height:30px;background:#34463e;border-radius:0px;"></div>
<div class="t" style="left:516px;top:1357.18px;font-size:10.7px;line-height:12.84px;color:#4fc45e;font-weight:400;-webkit-text-stroke:0.35px #4fc45e">Inflow</div>
<div class="t" style="left:439.0px;width:400px;text-align:center;top:1358.46px;font-size:10.4px;line-height:12.48px;color:#4fc45e;font-weight:400;letter-spacing:-0.45px;-webkit-text-stroke:0.45px #4fc45e">303,296.39</div>
<div class="t" style="left:527.0px;width:400px;text-align:center;top:1358.46px;font-size:10.4px;line-height:12.48px;color:#4fc45e;font-weight:400;letter-spacing:-0.45px;-webkit-text-stroke:0.45px #4fc45e">222,131.22</div>
<div class="t" style="left:615.0px;width:400px;text-align:center;top:1358.46px;font-size:10.4px;line-height:12.48px;color:#4fc45e;font-weight:400;letter-spacing:-0.45px;-webkit-text-stroke:0.45px #4fc45e">164,747.34</div>
<div class="t" style="left:703.0px;width:400px;text-align:center;top:1358.46px;font-size:10.4px;line-height:12.48px;color:#4fc45e;font-weight:400;letter-spacing:-0.45px;-webkit-text-stroke:0.45px #4fc45e">276,918.04</div>
<div class="t" style="left:791.0px;width:400px;text-align:center;top:1358.46px;font-size:10.4px;line-height:12.48px;color:#4fc45e;font-weight:400;letter-spacing:-0.45px;-webkit-text-stroke:0.45px #4fc45e">189,515.78</div>
<div class="t" style="left:879.0px;width:400px;text-align:center;top:1358.46px;font-size:10.4px;line-height:12.48px;color:#4fc45e;font-weight:400;letter-spacing:-0.45px;-webkit-text-stroke:0.45px #4fc45e">219,561.25</div>
<div class="t" style="left:967.0px;width:400px;text-align:center;top:1358.46px;font-size:10.4px;line-height:12.48px;color:#4fc45e;font-weight:400;letter-spacing:-0.45px;-webkit-text-stroke:0.45px #4fc45e">193,118.95</div>
<div class="t" style="left:1055.0px;width:400px;text-align:center;top:1358.46px;font-size:10.4px;line-height:12.48px;color:#4fc45e;font-weight:400;letter-spacing:-0.45px;-webkit-text-stroke:0.45px #4fc45e">2,591,223.27</div>
<div class="t" style="left:1143.0px;width:400px;text-align:center;top:1358.46px;font-size:10.4px;line-height:12.48px;color:#4fc45e;font-weight:400;letter-spacing:-0.45px;-webkit-text-stroke:0.45px #4fc45e">152,522.90</div>
<div class="t" style="left:1231.0px;width:400px;text-align:center;top:1358.46px;font-size:10.4px;line-height:12.48px;color:#4fc45e;font-weight:400;letter-spacing:-0.45px;-webkit-text-stroke:0.45px #4fc45e">70,307.86</div>
<div class="t" style="left:1319.0px;width:400px;text-align:center;top:1358.46px;font-size:10.4px;line-height:12.48px;color:#4fc45e;font-weight:400;letter-spacing:-0.45px;-webkit-text-stroke:0.45px #4fc45e">303,188.27</div>
<div class="t" style="left:1407.0px;width:400px;text-align:center;top:1358.46px;font-size:10.4px;line-height:12.48px;color:#4fc45e;font-weight:400;letter-spacing:-0.45px;-webkit-text-stroke:0.45px #4fc45e">121,549.67</div>
<div class="t" style="left:516px;top:1387.18px;font-size:10.7px;line-height:12.84px;color:#ffffff;font-weight:400;-webkit-text-stroke:0.35px #ffffff">Airdrop</div>
<div class="t" style="left:439.0px;width:400px;text-align:center;top:1388.46px;font-size:10.4px;line-height:12.48px;color:#d9d8e3;font-weight:400;letter-spacing:-0.6px">82,828.67</div>
<div class="t" style="left:527.0px;width:400px;text-align:center;top:1388.46px;font-size:10.4px;line-height:12.48px;color:#d9d8e3;font-weight:400;letter-spacing:-0.6px">86,421.29</div>
<div class="t" style="left:615.0px;width:400px;text-align:center;top:1388.46px;font-size:10.4px;line-height:12.48px;color:#d9d8e3;font-weight:400;letter-spacing:-0.6px">13,803.31</div>
<div class="t" style="left:703.0px;width:400px;text-align:center;top:1388.46px;font-size:10.4px;line-height:12.48px;color:#d9d8e3;font-weight:400;letter-spacing:-0.6px">67,999.73</div>
<div class="t" style="left:791.0px;width:400px;text-align:center;top:1388.46px;font-size:10.4px;line-height:12.48px;color:#d9d8e3;font-weight:400;letter-spacing:-0.6px">94,197.20</div>
<div class="t" style="left:879.0px;width:400px;text-align:center;top:1388.46px;font-size:10.4px;line-height:12.48px;color:#d9d8e3;font-weight:400;letter-spacing:-0.6px">53,613.25</div>
<div class="t" style="left:967.0px;width:400px;text-align:center;top:1388.46px;font-size:10.4px;line-height:12.48px;color:#d9d8e3;font-weight:400;letter-spacing:-0.6px">55,780.16</div>
<div class="t" style="left:1055.0px;width:400px;text-align:center;top:1388.46px;font-size:10.4px;line-height:12.48px;color:#d9d8e3;font-weight:400;letter-spacing:-0.6px">48,342.28</div>
<div class="t" style="left:1143.0px;width:400px;text-align:center;top:1388.46px;font-size:10.4px;line-height:12.48px;color:#d9d8e3;font-weight:400;letter-spacing:-0.6px">14,483.91</div>
<div class="t" style="left:1231.0px;width:400px;text-align:center;top:1388.46px;font-size:10.4px;line-height:12.48px;color:#d9d8e3;font-weight:400;letter-spacing:-0.6px">12,534.40</div>
<div class="t" style="left:1319.0px;width:400px;text-align:center;top:1388.46px;font-size:10.4px;line-height:12.48px;color:#d9d8e3;font-weight:400;letter-spacing:-0.6px">75,189.03</div>
<div class="t" style="left:1407.0px;width:400px;text-align:center;top:1388.46px;font-size:10.4px;line-height:12.48px;color:#d9d8e3;font-weight:400;letter-spacing:-0.6px">5,720.35</div>
<div class="t" style="left:516px;top:1417.18px;font-size:10.7px;line-height:12.84px;color:#ffffff;font-weight:400;-webkit-text-stroke:0.35px #ffffff">Mining</div>
<div class="t" style="left:439.0px;width:400px;text-align:center;top:1418.46px;font-size:10.4px;line-height:12.48px;color:#d9d8e3;font-weight:400;letter-spacing:-0.6px">98,955.58</div>
<div class="t" style="left:527.0px;width:400px;text-align:center;top:1418.46px;font-size:10.4px;line-height:12.48px;color:#d9d8e3;font-weight:400;letter-spacing:-0.6px">73,854.11</div>
<div class="t" style="left:615.0px;width:400px;text-align:center;top:1418.46px;font-size:10.4px;line-height:12.48px;color:#d9d8e3;font-weight:400;letter-spacing:-0.6px">8,384.32</div>
<div class="t" style="left:703.0px;width:400px;text-align:center;top:1418.46px;font-size:10.4px;line-height:12.48px;color:#d9d8e3;font-weight:400;letter-spacing:-0.6px">90,032.46</div>
<div class="t" style="left:791.0px;width:400px;text-align:center;top:1418.46px;font-size:10.4px;line-height:12.48px;color:#d9d8e3;font-weight:400;letter-spacing:-0.6px">24,435.56</div>
<div class="t" style="left:879.0px;width:400px;text-align:center;top:1418.46px;font-size:10.4px;line-height:12.48px;color:#d9d8e3;font-weight:400;letter-spacing:-0.6px">39,172.79</div>
<div class="t" style="left:967.0px;width:400px;text-align:center;top:1418.46px;font-size:10.4px;line-height:12.48px;color:#d9d8e3;font-weight:400;letter-spacing:-0.6px">86,713.64</div>
<div class="t" style="left:1055.0px;width:400px;text-align:center;top:1418.46px;font-size:10.4px;line-height:12.48px;color:#d9d8e3;font-weight:400;letter-spacing:-0.6px">64,899.86</div>
<div class="t" style="left:1143.0px;width:400px;text-align:center;top:1418.46px;font-size:10.4px;line-height:12.48px;color:#d9d8e3;font-weight:400;letter-spacing:-0.6px">83,807.97</div>
<div class="t" style="left:1231.0px;width:400px;text-align:center;top:1418.46px;font-size:10.4px;line-height:12.48px;color:#d9d8e3;font-weight:400;letter-spacing:-0.6px">6,214.81</div>
<div class="t" style="left:1319.0px;width:400px;text-align:center;top:1418.46px;font-size:10.4px;line-height:12.48px;color:#d9d8e3;font-weight:400;letter-spacing:-0.6px">52,667.26</div>
<div class="t" style="left:1407.0px;width:400px;text-align:center;top:1418.46px;font-size:10.4px;line-height:12.48px;color:#d9d8e3;font-weight:400;letter-spacing:-0.6px">69,322.41</div>
<div class="t" style="left:516px;top:1447.18px;font-size:10.7px;line-height:12.84px;color:#ffffff;font-weight:400;-webkit-text-stroke:0.35px #ffffff">Marketing</div>
<div class="t" style="left:439.0px;width:400px;text-align:center;top:1448.46px;font-size:10.4px;line-height:12.48px;color:#d9d8e3;font-weight:400;letter-spacing:-0.6px">39,900.97</div>
<div class="t" style="left:527.0px;width:400px;text-align:center;top:1448.46px;font-size:10.4px;line-height:12.48px;color:#d9d8e3;font-weight:400;letter-spacing:-0.6px">739.14</div>
<div class="t" style="left:615.0px;width:400px;text-align:center;top:1448.46px;font-size:10.4px;line-height:12.48px;color:#d9d8e3;font-weight:400;letter-spacing:-0.6px">95,849.44</div>
<div class="t" style="left:703.0px;width:400px;text-align:center;top:1448.46px;font-size:10.4px;line-height:12.48px;color:#d9d8e3;font-weight:400;letter-spacing:-0.6px">76,078.10</div>
<div class="t" style="left:791.0px;width:400px;text-align:center;top:1448.46px;font-size:10.4px;line-height:12.48px;color:#d9d8e3;font-weight:400;letter-spacing:-0.6px">37,004.57</div>
<div class="t" style="left:879.0px;width:400px;text-align:center;top:1448.46px;font-size:10.4px;line-height:12.48px;color:#d9d8e3;font-weight:400;letter-spacing:-0.6px">73,253.77</div>
<div class="t" style="left:967.0px;width:400px;text-align:center;top:1448.46px;font-size:10.4px;line-height:12.48px;color:#d9d8e3;font-weight:400;letter-spacing:-0.6px">31,446.71</div>
<div class="t" style="left:1055.0px;width:400px;text-align:center;top:1448.46px;font-size:10.4px;line-height:12.48px;color:#d9d8e3;font-weight:400;letter-spacing:-0.6px">89,172.13</div>
<div class="t" style="left:1143.0px;width:400px;text-align:center;top:1448.46px;font-size:10.4px;line-height:12.48px;color:#d9d8e3;font-weight:400;letter-spacing:-0.6px">45,149.67</div>
<div class="t" style="left:1231.0px;width:400px;text-align:center;top:1448.46px;font-size:10.4px;line-height:12.48px;color:#d9d8e3;font-weight:400;letter-spacing:-0.6px">67.96</div>
<div class="t" style="left:1319.0px;width:400px;text-align:center;top:1448.46px;font-size:10.4px;line-height:12.48px;color:#d9d8e3;font-weight:400;letter-spacing:-0.6px">86,789.51</div>
<div class="t" style="left:1407.0px;width:400px;text-align:center;top:1448.46px;font-size:10.4px;line-height:12.48px;color:#d9d8e3;font-weight:400;letter-spacing:-0.6px">31,982.14</div>
<div class="t" style="left:516px;top:1477.18px;font-size:10.7px;line-height:12.84px;color:#ffffff;font-weight:400;-webkit-text-stroke:0.35px #ffffff">Subscriptions</div>
<div class="t" style="left:439.0px;width:400px;text-align:center;top:1478.46px;font-size:10.4px;line-height:12.48px;color:#d9d8e3;font-weight:400;letter-spacing:-0.6px">81,611.17</div>
<div class="t" style="left:527.0px;width:400px;text-align:center;top:1478.46px;font-size:10.4px;line-height:12.48px;color:#d9d8e3;font-weight:400;letter-spacing:-0.6px">61,116.68</div>
<div class="t" style="left:615.0px;width:400px;text-align:center;top:1478.46px;font-size:10.4px;line-height:12.48px;color:#d9d8e3;font-weight:400;letter-spacing:-0.6px">46,710.27</div>
<div class="t" style="left:703.0px;width:400px;text-align:center;top:1478.46px;font-size:10.4px;line-height:12.48px;color:#d9d8e3;font-weight:400;letter-spacing:-0.6px">42,807.75</div>
<div class="t" style="left:791.0px;width:400px;text-align:center;top:1478.46px;font-size:10.4px;line-height:12.48px;color:#d9d8e3;font-weight:400;letter-spacing:-0.6px">33,878.45</div>
<div class="t" style="left:879.0px;width:400px;text-align:center;top:1478.46px;font-size:10.4px;line-height:12.48px;color:#d9d8e3;font-weight:400;letter-spacing:-0.6px">53,521.44</div>
<div class="t" style="left:967.0px;width:400px;text-align:center;top:1478.46px;font-size:10.4px;line-height:12.48px;color:#d9d8e3;font-weight:400;letter-spacing:-0.6px">19,178.44</div>
<div class="t" style="left:1055.0px;width:400px;text-align:center;top:1478.46px;font-size:10.4px;line-height:12.48px;color:#d9d8e3;font-weight:400;letter-spacing:-0.6px">2,388,809.00</div>
<div class="t" style="left:1143.0px;width:400px;text-align:center;top:1478.46px;font-size:10.4px;line-height:12.48px;color:#d9d8e3;font-weight:400;letter-spacing:-0.6px">9,081.35</div>
<div class="t" style="left:1231.0px;width:400px;text-align:center;top:1478.46px;font-size:10.4px;line-height:12.48px;color:#d9d8e3;font-weight:400;letter-spacing:-0.6px">51,490.69</div>
<div class="t" style="left:1319.0px;width:400px;text-align:center;top:1478.46px;font-size:10.4px;line-height:12.48px;color:#d9d8e3;font-weight:400;letter-spacing:-0.6px">88,542.47</div>
<div class="t" style="left:1407.0px;width:400px;text-align:center;top:1478.46px;font-size:10.4px;line-height:12.48px;color:#d9d8e3;font-weight:400;letter-spacing:-0.6px">14,524.77</div>
<div class="b" style="left:512px;top:1498px;width:1139px;height:30px;background:#472a33;border-radius:0px;"></div>
<div class="t" style="left:516px;top:1507.18px;font-size:10.7px;line-height:12.84px;color:#ee4a42;font-weight:400;-webkit-text-stroke:0.35px #ee4a42">Outflow</div>
<div class="t" style="left:439.0px;width:400px;text-align:center;top:1508.46px;font-size:10.4px;line-height:12.48px;color:#ee4a42;font-weight:400;letter-spacing:-0.45px;-webkit-text-stroke:0.45px #ee4a42">-121,531.36</div>
<div class="t" style="left:527.0px;width:400px;text-align:center;top:1508.46px;font-size:10.4px;line-height:12.48px;color:#ee4a42;font-weight:400;letter-spacing:-0.45px;-webkit-text-stroke:0.45px #ee4a42">-259,725.43</div>
<div class="t" style="left:615.0px;width:400px;text-align:center;top:1508.46px;font-size:10.4px;line-height:12.48px;color:#ee4a42;font-weight:400;letter-spacing:-0.45px;-webkit-text-stroke:0.45px #ee4a42">-196,347.40</div>
<div class="t" style="left:703.0px;width:400px;text-align:center;top:1508.46px;font-size:10.4px;line-height:12.48px;color:#ee4a42;font-weight:400;letter-spacing:-0.45px;-webkit-text-stroke:0.45px #ee4a42">-153,542.13</div>
<div class="t" style="left:791.0px;width:400px;text-align:center;top:1508.46px;font-size:10.4px;line-height:12.48px;color:#ee4a42;font-weight:400;letter-spacing:-0.45px;-webkit-text-stroke:0.45px #ee4a42">-184,366.44</div>
<div class="t" style="left:879.0px;width:400px;text-align:center;top:1508.46px;font-size:10.4px;line-height:12.48px;color:#ee4a42;font-weight:400;letter-spacing:-0.45px;-webkit-text-stroke:0.45px #ee4a42">-190,522.05</div>
<div class="t" style="left:967.0px;width:400px;text-align:center;top:1508.46px;font-size:10.4px;line-height:12.48px;color:#ee4a42;font-weight:400;letter-spacing:-0.45px;-webkit-text-stroke:0.45px #ee4a42">-171,339.21</div>
<div class="t" style="left:1055.0px;width:400px;text-align:center;top:1508.46px;font-size:10.4px;line-height:12.48px;color:#ee4a42;font-weight:400;letter-spacing:-0.45px;-webkit-text-stroke:0.45px #ee4a42">-292,193.83</div>
<div class="t" style="left:1143.0px;width:400px;text-align:center;top:1508.46px;font-size:10.4px;line-height:12.48px;color:#ee4a42;font-weight:400;letter-spacing:-0.45px;-webkit-text-stroke:0.45px #ee4a42">-240,445.87</div>
<div class="t" style="left:1231.0px;width:400px;text-align:center;top:1508.46px;font-size:10.4px;line-height:12.48px;color:#ee4a42;font-weight:400;letter-spacing:-0.45px;-webkit-text-stroke:0.45px #ee4a42">-117,718.34</div>
<div class="t" style="left:1319.0px;width:400px;text-align:center;top:1508.46px;font-size:10.4px;line-height:12.48px;color:#ee4a42;font-weight:400;letter-spacing:-0.45px;-webkit-text-stroke:0.45px #ee4a42">-72,528.00</div>
<div class="t" style="left:1407.0px;width:400px;text-align:center;top:1508.46px;font-size:10.4px;line-height:12.48px;color:#ee4a42;font-weight:400;letter-spacing:-0.45px;-webkit-text-stroke:0.45px #ee4a42">-256,741.65</div>
<div class="t" style="left:516px;top:1537.18px;font-size:10.7px;line-height:12.84px;color:#ffffff;font-weight:400;-webkit-text-stroke:0.35px #ffffff">Payroll</div>
<div class="t" style="left:439.0px;width:400px;text-align:center;top:1538.46px;font-size:10.4px;line-height:12.48px;color:#d9d8e3;font-weight:400;letter-spacing:-0.6px">-47397.21</div>
<div class="t" style="left:527.0px;width:400px;text-align:center;top:1538.46px;font-size:10.4px;line-height:12.48px;color:#d9d8e3;font-weight:400;letter-spacing:-0.6px">-89868.7</div>
<div class="t" style="left:615.0px;width:400px;text-align:center;top:1538.46px;font-size:10.4px;line-height:12.48px;color:#d9d8e3;font-weight:400;letter-spacing:-0.6px">-50358.28</div>
<div class="t" style="left:703.0px;width:400px;text-align:center;top:1538.46px;font-size:10.4px;line-height:12.48px;color:#d9d8e3;font-weight:400;letter-spacing:-0.6px">-11928.47</div>
<div class="t" style="left:791.0px;width:400px;text-align:center;top:1538.46px;font-size:10.4px;line-height:12.48px;color:#d9d8e3;font-weight:400;letter-spacing:-0.6px">-7582.79</div>
<div class="t" style="left:879.0px;width:400px;text-align:center;top:1538.46px;font-size:10.4px;line-height:12.48px;color:#d9d8e3;font-weight:400;letter-spacing:-0.6px">-95675.51</div>
<div class="t" style="left:967.0px;width:400px;text-align:center;top:1538.46px;font-size:10.4px;line-height:12.48px;color:#d9d8e3;font-weight:400;letter-spacing:-0.6px">-18957.78</div>
<div class="t" style="left:1055.0px;width:400px;text-align:center;top:1538.46px;font-size:10.4px;line-height:12.48px;color:#d9d8e3;font-weight:400;letter-spacing:-0.6px">-32951.19</div>
<div class="t" style="left:1143.0px;width:400px;text-align:center;top:1538.46px;font-size:10.4px;line-height:12.48px;color:#d9d8e3;font-weight:400;letter-spacing:-0.6px">-14765.46</div>
<div class="t" style="left:1231.0px;width:400px;text-align:center;top:1538.46px;font-size:10.4px;line-height:12.48px;color:#d9d8e3;font-weight:400;letter-spacing:-0.6px">-51802.31</div>
<div class="t" style="left:1319.0px;width:400px;text-align:center;top:1538.46px;font-size:10.4px;line-height:12.48px;color:#d9d8e3;font-weight:400;letter-spacing:-0.6px">-5370.36</div>
<div class="t" style="left:1407.0px;width:400px;text-align:center;top:1538.46px;font-size:10.4px;line-height:12.48px;color:#d9d8e3;font-weight:400;letter-spacing:-0.6px">-52937.18</div>
<div class="t" style="left:516px;top:1567.18px;font-size:10.7px;line-height:12.84px;color:#ffffff;font-weight:400;-webkit-text-stroke:0.35px #ffffff">Gas expenses</div>
<div class="t" style="left:439.0px;width:400px;text-align:center;top:1568.46px;font-size:10.4px;line-height:12.48px;color:#d9d8e3;font-weight:400;letter-spacing:-0.6px">-33969.68</div>
<div class="t" style="left:527.0px;width:400px;text-align:center;top:1568.46px;font-size:10.4px;line-height:12.48px;color:#d9d8e3;font-weight:400;letter-spacing:-0.6px">-18027.83</div>
<div class="t" style="left:615.0px;width:400px;text-align:center;top:1568.46px;font-size:10.4px;line-height:12.48px;color:#d9d8e3;font-weight:400;letter-spacing:-0.6px">-1144.02</div>
<div class="t" style="left:703.0px;width:400px;text-align:center;top:1568.46px;font-size:10.4px;line-height:12.48px;color:#d9d8e3;font-weight:400;letter-spacing:-0.6px">-8260.91</div>
<div class="t" style="left:791.0px;width:400px;text-align:center;top:1568.46px;font-size:10.4px;line-height:12.48px;color:#d9d8e3;font-weight:400;letter-spacing:-0.6px">-26785.83</div>
<div class="t" style="left:879.0px;width:400px;text-align:center;top:1568.46px;font-size:10.4px;line-height:12.48px;color:#d9d8e3;font-weight:400;letter-spacing:-0.6px">-3416.5</div>
<div class="t" style="left:967.0px;width:400px;text-align:center;top:1568.46px;font-size:10.4px;line-height:12.48px;color:#d9d8e3;font-weight:400;letter-spacing:-0.6px">-37618.68</div>
<div class="t" style="left:1055.0px;width:400px;text-align:center;top:1568.46px;font-size:10.4px;line-height:12.48px;color:#d9d8e3;font-weight:400;letter-spacing:-0.6px">-95885.82</div>
<div class="t" style="left:1143.0px;width:400px;text-align:center;top:1568.46px;font-size:10.4px;line-height:12.48px;color:#d9d8e3;font-weight:400;letter-spacing:-0.6px">-82282.06</div>
<div class="t" style="left:1231.0px;width:400px;text-align:center;top:1568.46px;font-size:10.4px;line-height:12.48px;color:#ffffff;font-weight:700;letter-spacing:-0.6px">-5067.46</div>
<div class="t" style="left:1319.0px;width:400px;text-align:center;top:1568.46px;font-size:10.4px;line-height:12.48px;color:#d9d8e3;font-weight:400;letter-spacing:-0.6px">-27418.74</div>
<div class="t" style="left:1407.0px;width:400px;text-align:center;top:1568.46px;font-size:10.4px;line-height:12.48px;color:#d9d8e3;font-weight:400;letter-spacing:-0.6px">-52052.53</div>
<div class="t" style="left:516px;top:1597.18px;font-size:10.7px;line-height:12.84px;color:#ffffff;font-weight:400;-webkit-text-stroke:0.35px #ffffff">Fees</div>
<div class="t" style="left:439.0px;width:400px;text-align:center;top:1598.46px;font-size:10.4px;line-height:12.48px;color:#d9d8e3;font-weight:400;letter-spacing:-0.6px">-23393.17</div>
<div class="t" style="left:527.0px;width:400px;text-align:center;top:1598.46px;font-size:10.4px;line-height:12.48px;color:#d9d8e3;font-weight:400;letter-spacing:-0.6px">-75181.84</div>
<div class="t" style="left:615.0px;width:400px;text-align:center;top:1598.46px;font-size:10.4px;line-height:12.48px;color:#d9d8e3;font-weight:400;letter-spacing:-0.6px">-94695.96</div>
<div class="t" style="left:703.0px;width:400px;text-align:center;top:1598.46px;font-size:10.4px;line-height:12.48px;color:#d9d8e3;font-weight:400;letter-spacing:-0.6px">-57888.34</div>
<div class="t" style="left:791.0px;width:400px;text-align:center;top:1598.46px;font-size:10.4px;line-height:12.48px;color:#d9d8e3;font-weight:400;letter-spacing:-0.6px">-67410.62</div>
<div class="t" style="left:879.0px;width:400px;text-align:center;top:1598.46px;font-size:10.4px;line-height:12.48px;color:#d9d8e3;font-weight:400;letter-spacing:-0.6px">-82427.62</div>
<div class="t" style="left:967.0px;width:400px;text-align:center;top:1598.46px;font-size:10.4px;line-height:12.48px;color:#d9d8e3;font-weight:400;letter-spacing:-0.6px">-37296.66</div>
<div class="t" style="left:1055.0px;width:400px;text-align:center;top:1598.46px;font-size:10.4px;line-height:12.48px;color:#d9d8e3;font-weight:400;letter-spacing:-0.6px">-69382.75</div>
<div class="t" style="left:1143.0px;width:400px;text-align:center;top:1598.46px;font-size:10.4px;line-height:12.48px;color:#d9d8e3;font-weight:400;letter-spacing:-0.6px">-73722.46</div>
<div class="t" style="left:1231.0px;width:400px;text-align:center;top:1598.46px;font-size:10.4px;line-height:12.48px;color:#d9d8e3;font-weight:400;letter-spacing:-0.6px">-38244.98</div>
<div class="t" style="left:1319.0px;width:400px;text-align:center;top:1598.46px;font-size:10.4px;line-height:12.48px;color:#d9d8e3;font-weight:400;letter-spacing:-0.6px">-11635.62</div>
<div class="t" style="left:1407.0px;width:400px;text-align:center;top:1598.46px;font-size:10.4px;line-height:12.48px;color:#d9d8e3;font-weight:400;letter-spacing:-0.6px">-91468.77</div>
<div class="t" style="left:516px;top:1627.18px;font-size:10.7px;line-height:12.84px;color:#ffffff;font-weight:400;-webkit-text-stroke:0.35px #ffffff">Uncategorized</div>
<div class="t" style="left:439.0px;width:400px;text-align:center;top:1628.46px;font-size:10.4px;line-height:12.48px;color:#d9d8e3;font-weight:400;letter-spacing:-0.6px">-16771.3</div>
<div class="t" style="left:527.0px;width:400px;text-align:center;top:1628.46px;font-size:10.4px;line-height:12.48px;color:#d9d8e3;font-weight:400;letter-spacing:-0.6px">-76647.06</div>
<div class="t" style="left:615.0px;width:400px;text-align:center;top:1628.46px;font-size:10.4px;line-height:12.48px;color:#d9d8e3;font-weight:400;letter-spacing:-0.6px">-50149.14</div>
<div class="t" style="left:703.0px;width:400px;text-align:center;top:1628.46px;font-size:10.4px;line-height:12.48px;color:#d9d8e3;font-weight:400;letter-spacing:-0.6px">-75464.41</div>
<div class="t" style="left:791.0px;width:400px;text-align:center;top:1628.46px;font-size:10.4px;line-height:12.48px;color:#d9d8e3;font-weight:400;letter-spacing:-0.6px">-82587.2</div>
<div class="t" style="left:879.0px;width:400px;text-align:center;top:1628.46px;font-size:10.4px;line-height:12.48px;color:#d9d8e3;font-weight:400;letter-spacing:-0.6px">-9002.42</div>
<div class="t" style="left:967.0px;width:400px;text-align:center;top:1628.46px;font-size:10.4px;line-height:12.48px;color:#d9d8e3;font-weight:400;letter-spacing:-0.6px">-77466.09</div>
<div class="t" style="left:1055.0px;width:400px;text-align:center;top:1628.46px;font-size:10.4px;line-height:12.48px;color:#d9d8e3;font-weight:400;letter-spacing:-0.6px">-93974.07</div>
<div class="t" style="left:1143.0px;width:400px;text-align:center;top:1628.46px;font-size:10.4px;line-height:12.48px;color:#d9d8e3;font-weight:400;letter-spacing:-0.6px">-69675.89</div>
<div class="t" style="left:1231.0px;width:400px;text-align:center;top:1628.46px;font-size:10.4px;line-height:12.48px;color:#d9d8e3;font-weight:400;letter-spacing:-0.6px">-22603.59</div>
<div class="t" style="left:1319.0px;width:400px;text-align:center;top:1628.46px;font-size:10.4px;line-height:12.48px;color:#d9d8e3;font-weight:400;letter-spacing:-0.6px">-28103.28</div>
<div class="t" style="left:1407.0px;width:400px;text-align:center;top:1628.46px;font-size:10.4px;line-height:12.48px;color:#d9d8e3;font-weight:400;letter-spacing:-0.6px">-60283.17</div>
<div class="b" style="left:512px;top:1346.5px;width:1139px;height:1.6px;background:#8d8fb3;border-radius:0px;"></div>
<div class="b" style="left:512px;top:1376.5px;width:1139px;height:1.6px;background:#4fc45e;border-radius:0px;"></div>
<div class="b" style="left:512px;top:1407px;width:1139px;height:1px;background:#3a3b4d;border-radius:0px;"></div>
<div class="b" style="left:512px;top:1437px;width:1139px;height:1px;background:#3a3b4d;border-radius:0px;"></div>
<div class="b" style="left:512px;top:1467px;width:1139px;height:1px;background:#3a3b4d;border-radius:0px;"></div>
<div class="b" style="left:512px;top:1497px;width:1139px;height:1px;background:#3a3b4d;border-radius:0px;"></div>
<div class="b" style="left:512px;top:1526.5px;width:1139px;height:1.6px;background:#e8454a;border-radius:0px;"></div>
<div class="b" style="left:512px;top:1557px;width:1139px;height:1px;background:#3a3b4d;border-radius:0px;"></div>
<div class="b" style="left:512px;top:1587px;width:1139px;height:1px;background:#3a3b4d;border-radius:0px;"></div>
<div class="b" style="left:512px;top:1617px;width:1139px;height:1px;background:#3a3b4d;border-radius:0px;"></div>
<div class="b" style="left:512px;top:1647px;width:1139px;height:1px;background:#3a3b4d;border-radius:0px;"></div>
<div class="b" style="left:472px;top:1728px;width:1224px;height:737px;background:#262734;border-radius:10px;"></div>
<div class="t" style="left:512px;top:1780.20px;font-size:13px;line-height:15.6px;color:#ecebf2;font-weight:400;;-webkit-text-stroke:0.22px #ecebf2">Cashflow breakdown</div>
<div class="t" style="left:1564px;top:1781.80px;font-size:12px;line-height:14.4px;color:#ffffff;font-weight:700;letter-spacing:-0.5px">CATEGORIES</div>
<div class="t" style="left:697px;top:1878.24px;font-size:14.6px;line-height:17.52px;color:#ffffff;font-weight:700;">Outflow</div>
<div class="t" style="right:264px;top:1878.24px;font-size:14.6px;line-height:17.52px;color:#ffffff;font-weight:700;text-align:right;">Inflow</div>
<svg class="s" style="left:0;top:0" width="1920" height="2500"><line x1="697.3" y1="1934" x2="697.3" y2="2396" stroke="#3b3c50" stroke-width="2" stroke-dasharray="9.6 6.25" stroke-dashoffset="3.75"/><text x="697.3" y="1923" font-size="10" fill="#8a8a9c" text-anchor="middle" font-family="Liberation Sans">30K</text><line x1="858" y1="1934" x2="858" y2="2396" stroke="#3b3c50" stroke-width="2" stroke-dasharray="9.6 6.25" stroke-dashoffset="3.75"/><text x="858" y="1923" font-size="10" fill="#8a8a9c" text-anchor="middle" font-family="Liberation Sans">20K</text><line x1="1018.6" y1="1934" x2="1018.6" y2="2396" stroke="#3b3c50" stroke-width="2" stroke-dasharray="9.6 6.25" stroke-dashoffset="3.75"/><text x="1018.6" y="1923" font-size="10" fill="#8a8a9c" text-anchor="middle" font-family="Liberation Sans">10K</text><line x1="1172.2" y1="1934" x2="1172.2" y2="2396" stroke="#3a3b4f" stroke-width="2"/><text x="1172.2" y="1923" font-size="10" fill="#8a8a9c" text-anchor="middle" font-family="Liberation Sans">0</text><line x1="1326.3" y1="1934" x2="1326.3" y2="2396" stroke="#3b3c50" stroke-width="2" stroke-dasharray="9.6 6.25" stroke-dashoffset="3.75"/><text x="1326.3" y="1923" font-size="10" fill="#8a8a9c" text-anchor="middle" font-family="Liberation Sans">10K</text><line x1="1486.2" y1="1934" x2="1486.2" y2="2396" stroke="#3b3c50" stroke-width="2" stroke-dasharray="9.6 6.25" stroke-dashoffset="3.75"/><text x="1486.2" y="1923" font-size="10" fill="#8a8a9c" text-anchor="middle" font-family="Liberation Sans">20K</text><line x1="1647.6" y1="1934" x2="1647.6" y2="2396" stroke="#3b3c50" stroke-width="2" stroke-dasharray="9.6 6.25" stroke-dashoffset="3.75"/><text x="1647.6" y="1923" font-size="10" fill="#8a8a9c" text-anchor="middle" font-family="Liberation Sans">30K</text><rect x="1172" y="1947" width="15.8" height="8" rx="4" fill="#0bc15c"/><rect x="1172" y="1987" width="71.9" height="8" rx="4" fill="#0bc15c"/><rect x="1172" y="2027" width="112.0" height="8" rx="4" fill="#0bc15c"/><rect x="1172" y="2067" width="151.8" height="8" rx="4" fill="#0bc15c"/><rect x="1172" y="2107" width="192.0" height="8" rx="4" fill="#0bc15c"/><rect x="1172" y="2147" width="303.9" height="8" rx="4" fill="#0bc15c"/><rect x="822" y="2180" width="350.5" height="8" rx="4" fill="#e0363b"/><rect x="972.2" y="2220" width="200.3" height="8" rx="4" fill="#e0363b"/><rect x="1044" y="2260" width="128.5" height="8" rx="4" fill="#e0363b"/><rect x="1092" y="2300" width="80.5" height="8" rx="4" fill="#e0363b"/><rect x="1124.3" y="2340" width="48.2" height="8" rx="4" fill="#e0363b"/><rect x="1140.3" y="2380" width="32.2" height="8" rx="4" fill="#e0363b"/></svg>
<svg class="s" style="left:513px;top:1938px;" width="22" height="22" viewBox="0 0 22 22"><path d="M11.00 0.15 L11.70 0.33 L12.34 0.81 L12.89 1.49 L13.36 2.19 L13.80 2.76 L14.27 3.10 L14.85 3.19 L15.56 3.10 L16.39 2.93 L17.26 2.85 L18.05 2.96 L18.67 3.33 L19.04 3.95 L19.15 4.74 L19.07 5.61 L18.90 6.44 L18.81 7.15 L18.90 7.73 L19.24 8.20 L19.81 8.64 L20.51 9.11 L21.19 9.66 L21.67 10.30 L21.85 11.00 L21.67 11.70 L21.19 12.34 L20.51 12.89 L19.81 13.36 L19.24 13.80 L18.90 14.27 L18.81 14.85 L18.90 15.56 L19.07 16.39 L19.15 17.26 L19.04 18.05 L18.67 18.67 L18.05 19.04 L17.26 19.15 L16.39 19.07 L15.56 18.90 L14.85 18.81 L14.27 18.90 L13.80 19.24 L13.36 19.81 L12.89 20.51 L12.34 21.19 L11.70 21.67 L11.00 21.85 L10.30 21.67 L9.66 21.19 L9.11 20.51 L8.64 19.81 L8.20 19.24 L7.73 18.90 L7.15 18.81 L6.44 18.90 L5.61 19.07 L4.74 19.15 L3.95 19.04 L3.33 18.67 L2.96 18.05 L2.85 17.26 L2.93 16.39 L3.10 15.56 L3.19 14.85 L3.10 14.27 L2.76 13.80 L2.19 13.36 L1.49 12.89 L0.81 12.34 L0.33 11.70 L0.15 11.00 L0.33 10.30 L0.81 9.66 L1.49 9.11 L2.19 8.64 L2.76 8.20 L3.10 7.73 L3.19 7.15 L3.10 6.44 L2.93 5.61 L2.85 4.74 L2.96 3.95 L3.33 3.33 L3.95 2.96 L4.74 2.85 L5.61 2.93 L6.44 3.10 L7.15 3.19 L7.73 3.10 L8.20 2.76 L8.64 2.19 L9.11 1.49 L9.66 0.81 L10.30 0.33 L11.00 0.15 Z" fill="none" stroke="#f1f0f3" stroke-width="1.7" stroke-linejoin="round"/><path d="M6.6 11.2 L9.6 14.2 L15 8.6" fill="none" stroke="#f1f0f3" stroke-width="1.8" stroke-linecap="round" stroke-linejoin="round"/></svg>
<div class="t" style="left:544.5px;top:1940.96px;font-size:13.4px;line-height:16.08px;color:#e9e8f0;font-weight:400;;-webkit-text-stroke:0.22px #e9e8f0">Contract interaction</div>
<svg class="s" style="left:513px;top:1978px;" width="22" height="22" viewBox="0 0 22 22"><path d="M1.1 5.3 Q1.1 4.3 2.1 4.3 H9.3 Q11 4.3 11 6 Q11 4.3 12.7 4.3 H19.9 Q20.9 4.3 20.9 5.3 V17.5 Q20.9 18.5 19.9 18.5 H12.7 L11 20.6 L9.3 18.5 H2.1 Q1.1 18.5 1.1 17.5 Z M11 6 V18.5" fill="none" stroke="#f1f0f3" stroke-width="1.7" stroke-linejoin="round"/></svg>
<div class="t" style="left:544.5px;top:1980.96px;font-size:13.4px;line-height:16.08px;color:#e9e8f0;font-weight:400;;-webkit-text-stroke:0.22px #e9e8f0">Education</div>
<svg class="s" style="left:513px;top:2018px;" width="22" height="22" viewBox="0 0 22 22"><rect x="1.9" y="3.3" width="18.2" height="13" rx="1.8" fill="none" stroke="#f1f0f3" stroke-width="1.7"/><path d="M1.9 12.4 H20.1 M11 16.3 V19.6 M7.2 19.9 H15.1" fill="none" stroke="#f1f0f3" stroke-width="1.7"/></svg>
<div class="t" style="left:544.5px;top:2020.96px;font-size:13.4px;line-height:16.08px;color:#e9e8f0;font-weight:400;;-webkit-text-stroke:0.22px #e9e8f0">Hardware</div>
<svg class="s" style="left:513px;top:2058px;" width="22" height="22" viewBox="0 0 22 22"><path d="M1.9 1.4 V19.5 H20.9" fill="none" stroke="#f1f0f3" stroke-width="1.7"/><path d="M2.6 16.6 L8.1 10.2 L10.7 12.6 L18.9 5" fill="none" stroke="#f1f0f3" stroke-width="1.7" stroke-linejoin="round"/><path d="M14.2 4.2 H18.9 V8.6" fill="none" stroke="#f1f0f3" stroke-width="1.7"/></svg>
<div class="t" style="left:544.5px;top:2060.96px;font-size:13.4px;line-height:16.08px;color:#e9e8f0;font-weight:400;;-webkit-text-stroke:0.22px #e9e8f0">Investment</div>
<svg class="s" style="left:513px;top:2098px;" width="22" height="22" viewBox="0 0 22 22"><path d="M11 11 C8.6 7.2 6.5 6 4.8 6 C2.3 6 0.4 8.2 0.4 11 C0.4 13.8 2.3 16 4.8 16 C6.5 16 8.6 14.8 11 11 C13.4 7.2 15.5 6 17.2 6 C19.7 6 21.6 8.2 21.6 11 C21.6 13.8 19.7 16 17.2 16 C15.5 16 13.4 14.8 11 11 Z" fill="none" stroke="#f1f0f3" stroke-width="1.8"/></svg>
<div class="t" style="left:544.5px;top:2100.96px;font-size:13.4px;line-height:16.08px;color:#e9e8f0;font-weight:400;;-webkit-text-stroke:0.22px #e9e8f0">Subscribtion</div>
<svg class="s" style="left:513px;top:2138px;" width="22" height="22" viewBox="0 0 22 22"><rect x="1.1" y="4.3" width="19.8" height="14.3" rx="1.6" fill="none" stroke="#f1f0f3" stroke-width="1.7"/><path d="M1.1 8.7 H20.9" stroke="#f1f0f3" stroke-width="1.7"/><path d="M10 14.9 H12.3 M14.6 14.9 H18.1" stroke="#f1f0f3" stroke-width="1.9" stroke-linecap="round"/></svg>
<div class="t" style="left:544.5px;top:2140.96px;font-size:13.4px;line-height:16.08px;color:#e9e8f0;font-weight:400;;-webkit-text-stroke:0.22px #e9e8f0">Cash expenses</div>
<svg class="s" style="left:513px;top:2178px;" width="22" height="22" viewBox="0 0 22 22"><path d="M6.9 5 V3 Q6.9 2 7.9 2 H14.1 Q15.1 2 15.1 3 V5" fill="none" stroke="#f1f0f3" stroke-width="1.7"/><rect x="1.8" y="5" width="18.4" height="14.6" rx="1.6" fill="none" stroke="#f1f0f3" stroke-width="1.7"/><path d="M1.8 11 Q11 16.8 20.2 11" fill="none" stroke="#f1f0f3" stroke-width="1.7"/><rect x="9.2" y="9" width="3.6" height="2.2" fill="#f1f0f3"/></svg>
<div class="t" style="left:544.5px;top:2180.96px;font-size:13.4px;line-height:16.08px;color:#e9e8f0;font-weight:400;;-webkit-text-stroke:0.22px #e9e8f0">Office</div>
<svg class="s" style="left:513px;top:2218px;" width="22" height="22" viewBox="0 0 22 22"><path d="M7 6.4 V3.4 C7 0.8 8.8 -0.3 11 -0.3 C13.2 -0.3 15 0.8 15 3.4 V6.4" fill="none" stroke="#f1f0f3" stroke-width="1.7"/><rect x="2.7" y="6.4" width="16.6" height="13.2" rx="1" fill="none" stroke="#f1f0f3" stroke-width="1.7"/><circle cx="11" cy="12" r="1.8" fill="none" stroke="#f1f0f3" stroke-width="1.6"/><path d="M11 13.6 V16.6" stroke="#f1f0f3" stroke-width="2"/></svg>
<div class="t" style="left:544.5px;top:2220.96px;font-size:13.4px;line-height:16.08px;color:#e9e8f0;font-weight:400;;-webkit-text-stroke:0.22px #e9e8f0">Security</div>
<svg class="s" style="left:513px;top:2258px;" width="22" height="22" viewBox="0 0 22 22"><path d="M6 6.2 L1.1 11 L6 15.6 M16 6.2 L20.9 11 L16 15.6 M13.4 2 L8.8 19.8" fill="none" stroke="#f1f0f3" stroke-width="1.8" stroke-linecap="round"/></svg>
<div class="t" style="left:544.5px;top:2260.96px;font-size:13.4px;line-height:16.08px;color:#e9e8f0;font-weight:400;;-webkit-text-stroke:0.22px #e9e8f0">Software</div>
<svg class="s" style="left:513px;top:2298px;" width="22" height="22" viewBox="0 0 22 22"><path d="M11 1.1 C12.1 1.1 12.8 2 12.8 3.5 V8.2 L20.8 12.2 V14.6 L12.8 12.6 V16.8 L15.2 18.9 V21 L11 19.8 L6.8 21 V18.9 L9.2 16.8 V12.6 L1.2 14.6 V12.2 L9.2 8.2 V3.5 C9.2 2 9.9 1.1 11 1.1 Z" fill="none" stroke="#f1f0f3" stroke-width="1.6" stroke-linejoin="round"/></svg>
<div class="t" style="left:544.5px;top:2300.96px;font-size:13.4px;line-height:16.08px;color:#e9e8f0;font-weight:400;;-webkit-text-stroke:0.22px #e9e8f0">Travel</div>
<svg class="s" style="left:513px;top:2338px;" width="22" height="22" viewBox="0 0 22 22"><circle cx="11" cy="11.1" r="9.5" fill="none" stroke="#f1f0f3" stroke-width="1.7"/><path d="M8.2 8.6 C8.2 5.3 13.8 5.3 13.8 8.6 C13.8 10.6 11 10.8 11 13.2" fill="none" stroke="#f1f0f3" stroke-width="1.7" stroke-linecap="round"/><circle cx="11" cy="16" r="1.1" fill="#f1f0f3"/></svg>
<div class="t" style="left:544.5px;top:2340.96px;font-size:13.4px;line-height:16.08px;color:#e9e8f0;font-weight:400;;-webkit-text-stroke:0.22px #e9e8f0">Other</div>
<svg class="s" style="left:513px;top:2378px;" width="22" height="22" viewBox="0 0 22 22"><path d="M13 1.3 L3.2 12.8 H10.4 L8.4 21.3 L18.8 9.5 H11.6 Z" fill="none" stroke="#a3a2ad" stroke-width="1.6" stroke-linejoin="round"/></svg>
<div class="t" style="left:544.5px;top:2380.96px;font-size:13.4px;line-height:16.08px;color:#e9e8f0;font-weight:400;;-webkit-text-stroke:0.22px #e9e8f0">Network fees</div>
<div class="b" style="left:472px;top:2529px;width:1224px;height:481px;background:#262734;border-radius:10px;"></div>
<div class="t" style="left:512px;top:2569.20px;font-size:13px;line-height:15.6px;color:#ecebf2;font-weight:400;;-webkit-text-stroke:0.22px #ecebf2">Balance history</div>
<svg class="s" style="left:527px;top:2636px;" width="14" height="14" viewBox="0 0 14 14"><circle cx="7" cy="7" r="5.1" fill="none" stroke="#6e6f82" stroke-width="2.1"/></svg>
<div class="t" style="left:549px;top:2634.74px;font-size:14.6px;line-height:17.52px;color:#ecebf2;font-weight:400;;-webkit-text-stroke:0.22px #ecebf2">Wallet #1</div>
<svg class="s" style="left:632px;top:2636px;" width="14" height="14" viewBox="0 0 14 14"><circle cx="7" cy="7" r="5.1" fill="none" stroke="#f0901c" stroke-width="2.1"/></svg>
<div class="t" style="left:653.5px;top:2634.74px;font-size:14.6px;line-height:17.52px;color:#ecebf2;font-weight:400;;-webkit-text-stroke:0.22px #ecebf2">Wallet #2</div>
<svg class="s" style="left:740px;top:2636px;" width="14" height="14" viewBox="0 0 14 14"><circle cx="7" cy="7" r="5.1" fill="none" stroke="#e8e8ee" stroke-width="2" stroke-dasharray="1.6 2.4"/></svg>
<div class="t" style="left:761.6px;top:2634.56px;font-size:14.9px;line-height:17.88px;color:#ecebf2;font-weight:400;;-webkit-text-stroke:0.22px #ecebf2">Total balance</div>
<svg class="s" style="left:0;top:0" width="1920" height="3100"><line x1="522.6" y1="2702" x2="522.6" y2="2938" stroke="#3b3c50" stroke-width="1.2" stroke-dasharray="8 8" stroke-dashoffset="5.1"/><text x="522.6" y="2964.6" font-size="10.4" fill="#6f7084" text-anchor="middle" font-family="Liberation Sans">Aug</text><line x1="747.5" y1="2702" x2="747.5" y2="2938" stroke="#3b3c50" stroke-width="1.2" stroke-dasharray="8 8" stroke-dashoffset="5.1"/><text x="747.5" y="2964.6" font-size="10.4" fill="#6f7084" text-anchor="middle" font-family="Liberation Sans">Sep</text><line x1="972" y1="2702" x2="972" y2="2938" stroke="#3b3c50" stroke-width="1.2" stroke-dasharray="8 8" stroke-dashoffset="5.1"/><text x="972" y="2964.6" font-size="10.4" fill="#6f7084" text-anchor="middle" font-family="Liberation Sans">Oct</text><line x1="1196.8" y1="2702" x2="1196.8" y2="2938" stroke="#3b3c50" stroke-width="1.2" stroke-dasharray="8 8" stroke-dashoffset="5.1"/><text x="1196.8" y="2964.6" font-size="10.4" fill="#6f7084" text-anchor="middle" font-family="Liberation Sans">Nov</text><line x1="1422.6" y1="2702" x2="1422.6" y2="2938" stroke="#3b3c50" stroke-width="1.2" stroke-dasharray="8 8" stroke-dashoffset="5.1"/><text x="1422.6" y="2964.6" font-size="10.4" fill="#6f7084" text-anchor="middle" font-family="Liberation Sans">Dec</text><line x1="1647.5" y1="2702" x2="1647.5" y2="2938" stroke="#3b3c50" stroke-width="1.2" stroke-dasharray="8 8" stroke-dashoffset="5.1"/><text x="1647.5" y="2964.6" font-size="10.4" fill="#6f7084" text-anchor="middle" font-family="Liberation Sans">Jan</text><path d="M525.00,2850.80 C599.60,2850.80 674.20,2896.80 748.80,2896.80 C823.40,2896.80 898.00,2838.90 972.60,2838.90 C1047.20,2838.90 1121.80,2872.80 1196.40,2872.80 C1271.00,2872.80 1345.60,2786.40 1420.20,2786.40 C1494.80,2786.40 1569.40,2875.50 1644.00,2875.50" fill="none" stroke="#6e6f84" stroke-width="1.15"/><path d="M525.00,2866.00 C599.60,2866.00 674.20,2866.00 748.80,2866.00 C823.40,2866.00 898.00,2855.97 972.60,2851.00 C1047.20,2846.03 1121.80,2846.07 1196.40,2836.20 C1271.00,2826.33 1345.60,2776.40 1420.20,2776.40 C1494.80,2776.40 1569.40,2830.30 1644.00,2830.30" fill="none" stroke="#ec8a1c" stroke-width="1.1"/><path d="M525.00,2786.80 C599.60,2786.80 674.20,2833.00 748.80,2833.00 C823.40,2833.00 898.00,2772.40 972.60,2772.40 C1047.20,2772.40 1121.80,2814.00 1196.40,2814.00 C1271.00,2814.00 1345.60,2708.10 1420.20,2708.10 C1494.80,2708.10 1569.40,2752.40 1644.00,2752.40" fill="none" stroke="#f2f2f6" stroke-width="1.5" stroke-dasharray="4.6 3.4"/></svg>
<div class="b" style="left:472px;top:3074px;width:1224px;height:552px;background:#262734;border-radius:10px;"></div>
<div class="t" style="left:512px;top:3114.20px;font-size:13px;line-height:15.6px;color:#ecebf2;font-weight:400;;-webkit-text-stroke:0.22px #ecebf2">Networks</div>
<svg class="s" style="left:536px;top:3182px;" width="32" height="32" viewBox="0 0 32 32"><circle cx="16" cy="16" r="16" fill="#fbfbfc"/><path d="M16.4 4.1 V12.9 L23.5 16.1 Z" fill="#a3a3ab"/><path d="M16.4 4.1 L9.3 16.1 L16.4 12.9 Z" fill="#c4c4ca"/><path d="M16.4 21.9 V27.7 L23.5 18.1 Z" fill="#a8a8b0"/><path d="M16.4 27.7 V21.9 L9.3 18.1 Z" fill="#cfcfd4"/><path d="M16.4 20.2 L23.5 16.1 L16.4 12.9 Z" fill="#201f2b"/><path d="M9.3 16.1 L16.4 20.2 V12.9 Z" fill="#8b8b93"/></svg>
<div class="t" style="left:576.5px;top:3191.12px;font-size:14.8px;line-height:17.76px;color:#e9e8f0;font-weight:400;;-webkit-text-stroke:0.22px #e9e8f0">Ethereum</div>
<div class="b" style="left:897px;top:3186px;width:428px;height:24px;background:#2c4038;border-radius:4px;"></div>
<div class="b" style="left:897px;top:3186px;width:214px;height:24px;background:#4a60c8;border-radius:4px;border-top-right-radius:0;border-bottom-right-radius:0"></div>
<div class="t" style="left:910px;width:400px;text-align:center;top:3192.20px;font-size:10.5px;line-height:12.6px;color:#ffffff;font-weight:400;-webkit-text-stroke:0.15px #fff">50%</div>
<div class="t" style="right:288px;top:3189.52px;font-size:16.8px;line-height:20.16px;color:#ffffff;font-weight:700;text-align:right;letter-spacing:0.3px"><span style="font-size:12.4px;font-weight:400;letter-spacing:0;-webkit-text-stroke:0.2px #fff">+$</span><span style="display:inline-block;width:8px"></span>50,700<span style="font-size:13.8px;font-weight:400;letter-spacing:0.2px;-webkit-text-stroke:0.2px #fff">.66</span></div>
<svg class="s" style="left:536px;top:3254px;" width="32" height="32" viewBox="0 0 32 32"><circle cx="16" cy="16" r="16" fill="#f3ba2f"/><path d="M12.116 14.404L16 10.52l3.886 3.886 2.26-2.26L16 6l-6.144 6.144 2.26 2.26zM6 16l2.26-2.26L10.52 16l-2.26 2.26L6 16zm6.116 1.596L16 21.48l3.886-3.886 2.26 2.259L16 26l-6.144-6.144-.003-.003 2.263-2.257zM21.48 16l2.26-2.26L26 16l-2.26 2.26L21.48 16zm-3.188-.002h.002V16L16 18.294l-2.291-2.29-.004-.004.004-.003.401-.402.195-.195L16 13.706l2.293 2.293z" fill="#fff"/></svg>
<div class="t" style="left:576.5px;top:3263.12px;font-size:14.8px;line-height:17.76px;color:#e9e8f0;font-weight:400;;-webkit-text-stroke:0.22px #e9e8f0">Binance smart chain</div>
<div class="b" style="left:897px;top:3258px;width:428px;height:24px;background:#2c4038;border-radius:4px;"></div>
<div class="b" style="left:897px;top:3258px;width:43px;height:24px;background:#4a60c8;border-radius:4px;border-top-right-radius:0;border-bottom-right-radius:0"></div>
<div class="t" style="left:910px;width:400px;text-align:center;top:3264.20px;font-size:10.5px;line-height:12.6px;color:#ffffff;font-weight:400;-webkit-text-stroke:0.15px #fff">10%</div>
<div class="t" style="right:288px;top:3261.52px;font-size:16.8px;line-height:20.16px;color:#ffffff;font-weight:700;text-align:right;letter-spacing:0.3px"><span style="font-size:12.4px;font-weight:400;letter-spacing:0;-webkit-text-stroke:0.2px #fff">+$</span><span style="display:inline-block;width:8px"></span>5,678<span style="font-size:13.8px;font-weight:400;letter-spacing:0.2px;-webkit-text-stroke:0.2px #fff">.07</span></div>
<svg class="s" style="left:536px;top:3326px;" width="32" height="32" viewBox="0 0 32 32"><circle cx="16" cy="16" r="16" fill="#143568"/><path d="M15.9 5 L25.4 10.5 V21.6 L15.9 26.9 L6.6 21.6 V10.5 Z" fill="none" stroke="#fff" stroke-width="1.5" stroke-linejoin="round"/><path d="M12.2 10.3 H19.6 L20 13.4 H11.8 Z" fill="#fff"/><rect x="14.2" y="13.3" width="3" height="5.6" fill="#fff"/><path d="M9.6 16.4 L12.4 15.4 L14.2 20.4 L12.6 22.6 Z M22.2 16.4 L19.4 15.4 L17.6 20.4 L19.2 22.6 Z" fill="#fff"/></svg>
<div class="t" style="left:576.5px;top:3335.12px;font-size:14.8px;line-height:17.76px;color:#e9e8f0;font-weight:400;;-webkit-text-stroke:0.22px #e9e8f0">Cronos</div>
<div class="b" style="left:897px;top:3330px;width:428px;height:24px;background:#2c4038;border-radius:4px;"></div>
<div class="b" style="left:897px;top:3330px;width:43px;height:24px;background:#4a60c8;border-radius:4px;border-top-right-radius:0;border-bottom-right-radius:0"></div>
<div class="t" style="left:910px;width:400px;text-align:center;top:3336.20px;font-size:10.5px;line-height:12.6px;color:#ffffff;font-weight:400;-webkit-text-stroke:0.15px #fff">10%</div>
<div class="t" style="right:288px;top:3333.52px;font-size:16.8px;line-height:20.16px;color:#ffffff;font-weight:700;text-align:right;letter-spacing:0.3px"><span style="font-size:12.4px;font-weight:400;letter-spacing:0;-webkit-text-stroke:0.2px #fff">+$</span><span style="display:inline-block;width:8px"></span>5,678<span style="font-size:13.8px;font-weight:400;letter-spacing:0.2px;-webkit-text-stroke:0.2px #fff">.07</span></div>
<svg class="s" style="left:536px;top:3398px;" width="32" height="32" viewBox="0 0 32 32"><circle cx="16" cy="16" r="16" fill="#2b463b"/><path d="M16.2 6.3 V25.8" stroke="#55d465" stroke-width="2.3" stroke-linecap="round"/><path d="M21.4 11.3 C20.5 9.3 18.7 8.6 16.2 8.6 C13.1 8.6 11.1 10 11.1 12.4 C11.1 14.8 13.5 15.6 16.2 16.2 C19.2 16.8 21.5 17.6 21.5 20.2 C21.5 22.4 19.4 23.8 16.2 23.8 C13.4 23.8 11.4 22.8 10.5 20.7" fill="none" stroke="#55d465" stroke-width="2.5" stroke-linecap="round"/></svg>
<div class="t" style="left:576.5px;top:3407.12px;font-size:14.8px;line-height:17.76px;color:#e9e8f0;font-weight:400;;-webkit-text-stroke:0.22px #e9e8f0">FIAT</div>
<div class="b" style="left:897px;top:3402px;width:428px;height:24px;background:#2c4038;border-radius:4px;"></div>
<div class="b" style="left:897px;top:3402px;width:43px;height:24px;background:#4a60c8;border-radius:4px;border-top-right-radius:0;border-bottom-right-radius:0"></div>
<div class="t" style="left:910px;width:400px;text-align:center;top:3408.20px;font-size:10.5px;line-height:12.6px;color:#ffffff;font-weight:400;-webkit-text-stroke:0.15px #fff">10%</div>
<div class="t" style="right:288px;top:3405.52px;font-size:16.8px;line-height:20.16px;color:#ffffff;font-weight:700;text-align:right;letter-spacing:0.3px"><span style="font-size:12.4px;font-weight:400;letter-spacing:0;-webkit-text-stroke:0.2px #fff">+$</span><span style="display:inline-block;width:8px"></span>5,678<span style="font-size:13.8px;font-weight:400;letter-spacing:0.2px;-webkit-text-stroke:0.2px #fff">.07</span></div>
<svg class="s" style="left:536px;top:3470px;" width="32" height="32" viewBox="0 0 32 32"><circle cx="16" cy="16" r="16" fill="#ea4448"/><path d="M14.5 4.2 H17.2 L20 10.6 L12.6 23.8 H4.8 Z" fill="#fff"/><path d="M22.8 16.1 L27.1 23.6 H18.3 Z" fill="#fff"/></svg>
<div class="t" style="left:576.5px;top:3479.12px;font-size:14.8px;line-height:17.76px;color:#e9e8f0;font-weight:400;;-webkit-text-stroke:0.22px #e9e8f0">AVAX</div>
<div class="b" style="left:897px;top:3474px;width:428px;height:24px;background:#2c4038;border-radius:4px;"></div>
<div class="b" style="left:897px;top:3474px;width:43px;height:24px;background:#4a60c8;border-radius:4px;border-top-right-radius:0;border-bottom-right-radius:0"></div>
<div class="t" style="left:910px;width:400px;text-align:center;top:3480.20px;font-size:10.5px;line-height:12.6px;color:#ffffff;font-weight:400;-webkit-text-stroke:0.15px #fff">10%</div>
<div class="t" style="right:288px;top:3477.52px;font-size:16.8px;line-height:20.16px;color:#ffffff;font-weight:700;text-align:right;letter-spacing:0.3px"><span style="font-size:12.4px;font-weight:400;letter-spacing:0;-webkit-text-stroke:0.2px #fff">+$</span><span style="display:inline-block;width:8px"></span>5,678<span style="font-size:13.8px;font-weight:400;letter-spacing:0.2px;-webkit-text-stroke:0.2px #fff">.07</span></div>
<svg class="s" style="left:536px;top:3542px;" width="32" height="32" viewBox="0 0 32 32"><circle cx="16" cy="16" r="16" fill="#1b3163"/><circle cx="15.9" cy="15.9" r="9.1" fill="#f3c32f"/><path d="M9.2 8.9 Q17 10.4 25.8 14.9 L25.8 18.7 Q14.2 20.2 9.2 8.9 Z" fill="#1b3163"/><path d="M22 13.2 Q24 14.2 25.2 15.3 L24.6 12.6 Z" fill="#f29a1e"/></svg>
<div class="t" style="left:576.5px;top:3551.12px;font-size:14.8px;line-height:17.76px;color:#e9e8f0;font-weight:400;;-webkit-text-stroke:0.22px #e9e8f0">Terra</div>
<div class="b" style="left:897px;top:3546px;width:428px;height:24px;background:#2c4038;border-radius:4px;"></div>
<div class="b" style="left:897px;top:3546px;width:43px;height:24px;background:#4a60c8;border-radius:4px;border-top-right-radius:0;border-bottom-right-radius:0"></div>
<div class="t" style="left:910px;width:400px;text-align:center;top:3552.20px;font-size:10.5px;line-height:12.6px;color:#ffffff;font-weight:400;-webkit-text-stroke:0.15px #fff">10%</div>
<div class="t" style="right:288px;top:3549.52px;font-size:16.8px;line-height:20.16px;color:#ffffff;font-weight:700;text-align:right;letter-spacing:0.3px"><span style="font-size:12.4px;font-weight:400;letter-spacing:0;-webkit-text-stroke:0.2px #fff">+$</span><span style="display:inline-block;width:8px"></span>5,678<span style="font-size:13.8px;font-weight:400;letter-spacing:0.2px;-webkit-text-stroke:0.2px #fff">.07</span></div>
</body></html>
